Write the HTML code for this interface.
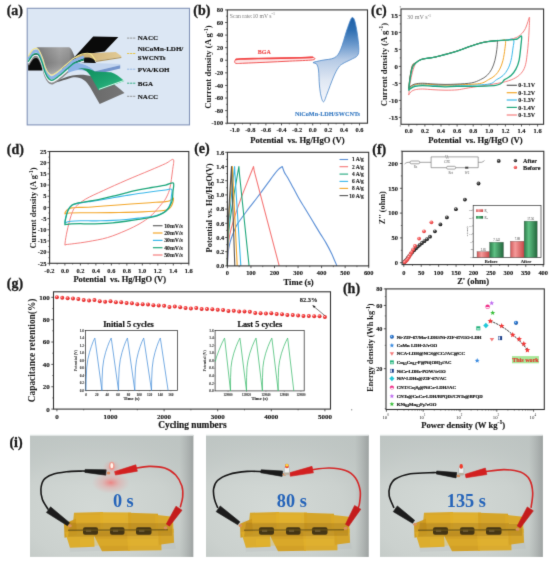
<!DOCTYPE html>
<html><head><meta charset="utf-8"><style>
html,body{margin:0;padding:0;background:#fff;width:550px;height:561px;overflow:hidden}
svg{display:block}
text{font-family:"Liberation Serif",serif}
</style></head><body>
<svg width="550" height="561" viewBox="0 0 550 561">
<defs><filter id="soft" x="0" y="0" width="550" height="561" filterUnits="userSpaceOnUse" color-interpolation-filters="sRGB"><feConvolveMatrix order="3" kernelMatrix="0.0113 0.0838 0.0113 0.0838 0.6193 0.0838 0.0113 0.0838 0.0113" edgeMode="duplicate" preserveAlpha="true"/></filter></defs>
<g filter="url(#soft)">
<rect x="0" y="0" width="550" height="561" fill="#fff"/>
<defs>
<radialGradient id="sph_k" cx="0.38" cy="0.35" r="0.65"><stop offset="0" stop-color="#c8c8c8"/><stop offset="0.35" stop-color="#4a4a4a"/><stop offset="1" stop-color="#111"/></radialGradient>
<radialGradient id="sph_r" cx="0.38" cy="0.35" r="0.65"><stop offset="0" stop-color="#ffd0d0"/><stop offset="0.35" stop-color="#f86a6a"/><stop offset="1" stop-color="#e03a3a"/></radialGradient>
<radialGradient id="sph_R" cx="0.38" cy="0.35" r="0.65"><stop offset="0" stop-color="#ffd4d4"/><stop offset="0.35" stop-color="#f84646"/><stop offset="1" stop-color="#d82424"/></radialGradient>
<radialGradient id="sph_b" cx="0.38" cy="0.35" r="0.65"><stop offset="0" stop-color="#cfe4ff"/><stop offset="0.35" stop-color="#2f7fd8"/><stop offset="1" stop-color="#1a4f9a"/></radialGradient>
<linearGradient id="bar_r" x1="0" y1="0" x2="1" y2="0"><stop offset="0" stop-color="#d05a5a"/><stop offset="0.35" stop-color="#f59a9a"/><stop offset="1" stop-color="#c84848"/></linearGradient>
<linearGradient id="bar_g" x1="0" y1="0" x2="1" y2="0"><stop offset="0" stop-color="#2a7a48"/><stop offset="0.35" stop-color="#5ec083"/><stop offset="1" stop-color="#23663c"/></linearGradient>
</defs>
<text x="14.80" y="14.90" font-size="14" text-anchor="middle" font-weight="bold" fill="#1a1a1a" stroke="#1a1a1a" stroke-width="0.30" >(a)</text>
<rect x="27.2" y="8.3" width="162.3" height="116.6" fill="#dce7f4" stroke="#8394b8" stroke-width="1.1"/>
<defs>
<linearGradient id="ga_gray" x1="0" y1="0" x2="1" y2="0">
<stop offset="0" stop-color="#7a7a7a"/><stop offset="0.25" stop-color="#8e8e8e"/><stop offset="0.6" stop-color="#a6a6a6"/><stop offset="0.85" stop-color="#9a9a9a"/><stop offset="1" stop-color="#6a6a6a"/></linearGradient>
<linearGradient id="ga_grayv" x1="0" y1="0" x2="0" y2="1">
<stop offset="0" stop-color="#000" stop-opacity="0"/><stop offset="0.55" stop-color="#000" stop-opacity="0.12"/><stop offset="1" stop-color="#fff" stop-opacity="0.25"/></linearGradient>
<linearGradient id="ga_green" x1="0" y1="0" x2="1" y2="1">
<stop offset="0" stop-color="#0c8a5a"/><stop offset="0.6" stop-color="#1fa572"/><stop offset="1" stop-color="#3cc08a"/></linearGradient>
<linearGradient id="ga_tan" x1="0" y1="0" x2="1" y2="0">
<stop offset="0" stop-color="#c8ab70"/><stop offset="1" stop-color="#e2cb96"/></linearGradient>
<linearGradient id="ga_bot" x1="0" y1="0" x2="1" y2="0">
<stop offset="0" stop-color="#5a5a5a"/><stop offset="1" stop-color="#767676"/></linearGradient>
</defs>
<path d="M50,83.5 C56,83 64,80 72,77.5 C80,76 86,80 90,87 L99.7,104 L124.5,93 C119,88 113,83 106,80 L92,76.5 C84,74 74,74 64,78 C58,80.5 54,81.5 50,81 Z" fill="url(#ga_bot)"/>
<path d="M28.2,70.5 L28.2,62 C30.5,56.5 33.5,53.2 36.3,53.5 C39.2,54 41,61 42.3,70.5 Z" fill="#0b0b0b"/>
<path d="M70,62 L93.2,36.5 L118.3,37.1 L104.6,51.5 L90,53.5 L80,57 Z" fill="#0a0a0a"/>
<path d="M62,68 C68,63 74,58.5 80,56 L92,56 L96,61 L84,62 C76,63 70,66 64,71 Z" fill="#141414"/>
<path d="M36.1,48.4 C36.8,47.6 37.5,47.3 38.8,47.3 L68.8,47.3 C71.3,47.8 72.8,52 75,57.6 C72.5,59.1 68,62.8 65.2,65.5 C62,68.5 58.8,70.9 55,73.5 C53.5,74.6 52.5,75 51.5,74.8 C48.8,73.6 47,70.5 45.2,67.3 C43.5,63 42,56 38.8,50 Z" fill="url(#ga_gray)"/>
<path d="M36.1,48.4 C36.8,47.6 37.5,47.3 38.8,47.3 L68.8,47.3 C71.3,47.8 72.8,52 75,57.6 C72.5,59.1 68,62.8 65.2,65.5 C62,68.5 58.8,70.9 55,73.5 C53.5,74.6 52.5,75 51.5,74.8 C48.8,73.6 47,70.5 45.2,67.3 C43.5,63 42,56 38.8,50 Z" fill="url(#ga_grayv)"/>
<path d="M72,60 C80,56 88,56 93.5,59.2 L96,63 L72,64 Z" fill="#111"/>
<path d="M74,58 C78,55.5 83,53.6 89.6,53.2 L115.8,52.1 L121.3,55.9 L121.3,57 L95.6,60.8 C94.5,60.3 93.8,59.8 93.5,59.2 C91,57.5 87,57 80,58.5 Z" fill="url(#ga_tan)"/>
<path d="M95.6,60.8 L121.3,57 L121.3,58 L95.8,62 Z" fill="#b0945a"/>
<path d="M28.20,65.10 C28.92,64.02 31.18,59.95 32.50,58.60 C33.82,57.25 35.05,57.00 36.10,57.00 C37.15,57.00 37.73,56.97 38.80,58.60 C39.87,60.23 41.43,63.92 42.50,66.80 C43.57,69.68 44.15,73.33 45.20,75.90 C46.25,78.47 47.58,80.92 48.80,82.20 C50.02,83.48 50.83,84.05 52.50,83.60 C54.17,83.15 56.68,81.08 58.80,79.50 C60.92,77.92 62.92,76.07 65.20,74.10 C67.48,72.13 70.53,69.15 72.50,67.70 C74.47,66.25 75.08,66.22 77.00,65.40 C78.92,64.58 82.83,63.23 84.00,62.80" fill="none" stroke="#8a8a8a" stroke-width="1.8"/>
<path d="M28.20,63.30 C28.92,62.22 31.18,58.15 32.50,56.80 C33.82,55.45 35.05,55.20 36.10,55.20 C37.15,55.20 37.73,55.17 38.80,56.80 C39.87,58.43 41.43,62.12 42.50,65.00 C43.57,67.88 44.15,71.53 45.20,74.10 C46.25,76.67 47.58,79.12 48.80,80.40 C50.02,81.68 50.83,82.25 52.50,81.80 C54.17,81.35 56.68,79.28 58.80,77.70 C60.92,76.12 62.92,74.27 65.20,72.30 C67.48,70.33 70.53,67.35 72.50,65.90 C74.47,64.45 75.08,64.42 77.00,63.60 C78.92,62.78 82.83,61.43 84.00,61.00" fill="none" stroke="#f4f7fa" stroke-width="1.6"/>
<path d="M28.20,59.20 C28.92,58.12 31.18,54.05 32.50,52.70 C33.82,51.35 35.05,51.10 36.10,51.10 C37.15,51.10 37.73,51.07 38.80,52.70 C39.87,54.33 41.43,58.02 42.50,60.90 C43.57,63.78 44.15,67.43 45.20,70.00 C46.25,72.57 47.58,75.02 48.80,76.30 C50.02,77.58 50.83,78.15 52.50,77.70 C54.17,77.25 56.68,75.18 58.80,73.60 C60.92,72.02 62.92,70.17 65.20,68.20 C67.48,66.23 70.53,63.25 72.50,61.80 C74.47,60.35 75.08,60.32 77.00,59.50 C78.92,58.68 82.83,57.33 84.00,56.90" fill="none" stroke="#8db3e6" stroke-width="3.0"/>
<path d="M68,66 C72,63.5 76,62.4 79.8,62.5 C86,64.5 92,68 95.1,71.2 L95.1,74.5 C90,72 84,70 78,70 C74,70.5 71,71.5 68,73 Z" fill="#8db3e6"/>
<path d="M79.8,62.5 L120.2,64.1 L120.2,65.2 L95.1,71.2 C92,68 86,64.5 79.8,63.5 Z" fill="#c3d5ef"/>
<path d="M95.1,71.2 L120.2,65.2 L120.2,68.5 L95.1,74.5 Z" fill="#7494cc"/>
<path d="M28.20,61.70 C28.92,60.62 31.18,56.55 32.50,55.20 C33.82,53.85 35.05,53.60 36.10,53.60 C37.15,53.60 37.73,53.57 38.80,55.20 C39.87,56.83 41.43,60.52 42.50,63.40 C43.57,66.28 44.15,69.93 45.20,72.50 C46.25,75.07 47.58,77.52 48.80,78.80 C50.02,80.08 50.83,80.65 52.50,80.20 C54.17,79.75 56.68,77.68 58.80,76.10 C60.92,74.52 62.92,72.67 65.20,70.70 C67.48,68.73 70.53,65.75 72.50,64.30 C74.47,62.85 75.08,62.82 77.00,62.00 C78.92,61.18 82.83,59.83 84.00,59.40" fill="none" stroke="#12a070" stroke-width="1.3"/>
<path d="M78,68.5 C85,68.8 89,72.5 92,78.5 L98.6,90.2 L124.3,81 C120,77 116,74 111,72.2 L95,71.5 C90,69 85,67.8 78,68.5 Z" fill="url(#ga_green)"/>
<path d="M99,89.3 L123.8,80.5" stroke="#e8fff4" stroke-width="0.9"/>
<path d="M28.20,56.50 C28.92,55.42 31.18,51.35 32.50,50.00 C33.82,48.65 35.05,48.40 36.10,48.40 C37.15,48.40 37.73,48.37 38.80,50.00 C39.87,51.63 41.43,55.32 42.50,58.20 C43.57,61.08 44.15,64.73 45.20,67.30 C46.25,69.87 47.58,72.32 48.80,73.60 C50.02,74.88 50.83,75.45 52.50,75.00 C54.17,74.55 56.68,72.48 58.80,70.90 C60.92,69.32 62.92,67.47 65.20,65.50 C67.48,63.53 71.28,60.17 72.50,59.10 C74.5,58 77.5,55.5 82,54 C86,53 89,53 90.5,53.8 C92.3,55 93.5,57.5 95.6,60.8" fill="none" stroke="#f2e690" stroke-width="1.1"/>
<line x1="127.1" y1="38.1" x2="135.7" y2="38.1" stroke="#8a8a8a" stroke-width="0.9" stroke-dasharray="2.2,0.8"/>
<line x1="127.1" y1="53.5" x2="135.7" y2="53.5" stroke="#e8c030" stroke-width="0.9" stroke-dasharray="2.2,0.8"/>
<line x1="127.1" y1="69.2" x2="135.7" y2="69.2" stroke="#8fb2e3" stroke-width="0.9" stroke-dasharray="2.2,0.8"/>
<line x1="127.1" y1="83.2" x2="135.7" y2="83.2" stroke="#20a878" stroke-width="0.9" stroke-dasharray="2.2,0.8"/>
<line x1="127.1" y1="96.3" x2="135.7" y2="96.3" stroke="#8a8a8a" stroke-width="0.9" stroke-dasharray="2.2,0.8"/>
<text x="137.80" y="40.40" font-size="7" text-anchor="start" font-weight="bold" fill="#111" stroke="#111" stroke-width="0.15" >NACC</text>
<text x="137.80" y="51.40" font-size="7" text-anchor="start" font-weight="bold" fill="#111" stroke="#111" stroke-width="0.15" >NiCoMn-LDH/</text>
<text x="137.80" y="59.90" font-size="7" text-anchor="start" font-weight="bold" fill="#111" stroke="#111" stroke-width="0.15" >SWCNTs</text>
<text x="137.80" y="71.80" font-size="7" text-anchor="start" font-weight="bold" fill="#111" stroke="#111" stroke-width="0.15" >PVA/KOH</text>
<text x="137.80" y="85.60" font-size="7" text-anchor="start" font-weight="bold" fill="#111" stroke="#111" stroke-width="0.15" >BGA</text>
<text x="137.80" y="99.40" font-size="7" text-anchor="start" font-weight="bold" fill="#111" stroke="#111" stroke-width="0.15" >NACC</text>
<text x="201.80" y="15.00" font-size="14" text-anchor="middle" font-weight="bold" fill="#1a1a1a" stroke="#1a1a1a" stroke-width="0.30" >(b)</text>
<defs><linearGradient id="gb_blue" x1="0" y1="0" x2="0" y2="1"><stop offset="0" stop-color="#1d5fa6"/><stop offset="0.15" stop-color="#2f6fb2"/><stop offset="0.32" stop-color="#6a98cc"/><stop offset="0.5" stop-color="#b5cae5"/><stop offset="0.74" stop-color="#dfe7f3"/><stop offset="1" stop-color="#f5f7fc"/></linearGradient></defs>
<path d="M234.70,61.20 C234.83,60.63 234.96,59.87 235.87,59.50 C236.78,59.12 236.45,59.09 240.16,58.93 C243.86,58.77 251.21,58.68 258.10,58.55 C264.99,58.43 274.35,58.30 281.50,58.17 C288.65,58.05 295.80,57.94 301.00,57.80 C306.20,57.65 310.75,56.95 312.70,57.29 C314.65,57.64 316.60,59.23 312.70,59.87 C308.80,60.51 297.10,60.73 289.30,61.13 C281.50,61.53 273.44,61.92 265.90,62.27 C258.36,62.61 248.87,63.00 244.06,63.21 C239.25,63.42 238.53,63.58 237.04,63.52 C235.54,63.47 235.48,63.28 235.09,62.90 Z" fill="#fde6e6" stroke="#f25656" stroke-width="1.0" stroke-linejoin="round" stroke-linecap="round" />
<path d="M235.87,59.50 C236.59,59.40 236.45,59.09 240.16,58.93 C243.86,58.77 251.21,58.68 258.10,58.55 C264.99,58.43 274.35,58.30 281.50,58.17 C288.65,58.05 295.80,57.94 301.00,57.80 C306.20,57.65 310.75,57.38 312.70,57.29" fill="none" stroke="#f24848" stroke-width="1.6" stroke-linejoin="round" stroke-linecap="round" />
<path d="M313.30,62.40 C314.22,61.78 318.50,61.07 322.00,60.30 C325.50,59.53 331.22,59.52 334.30,57.80 C337.38,56.08 338.47,54.47 340.50,50.00 C342.53,45.53 344.83,36.00 346.50,31.00 C348.17,26.00 349.48,22.23 350.50,20.00 C351.52,17.77 351.88,17.43 352.60,17.60 C353.32,17.77 354.03,18.43 354.80,21.00 C355.57,23.57 356.53,28.50 357.20,33.00 C357.87,37.50 358.75,44.25 358.80,48.00 C358.85,51.75 358.80,53.58 357.50,55.50 C356.20,57.42 353.42,58.17 351.00,59.50 C348.58,60.83 345.08,62.17 343.00,63.50 C340.92,64.83 340.08,65.25 338.50,67.50 C336.92,69.75 335.42,72.58 333.50,77.00 C331.58,81.42 328.65,89.87 327.00,94.00 C325.35,98.13 324.60,101.47 323.60,101.80 C322.60,102.13 321.70,98.80 321.00,96.00 C320.30,93.20 319.82,89.33 319.40,85.00 C318.98,80.67 318.98,73.50 318.50,70.00 C318.02,66.50 317.37,65.27 316.50,64.00 Z" fill="url(#gb_blue)" stroke="#4d88c9" stroke-width="0.8" stroke-linejoin="round" stroke-linecap="round" />
<rect x="227.30" y="9.90" width="140.20" height="113.30" fill="none" stroke="#333" stroke-width="1.1"/>
<line x1="234.70" y1="123.20" x2="234.70" y2="125.40" stroke="#333" stroke-width="0.8"/>
<text x="234.70" y="131.50" font-size="6.4" text-anchor="middle" font-weight="bold" fill="#1a1a1a" stroke="#1a1a1a" stroke-width="0.14" >-1.0</text>
<line x1="250.30" y1="123.20" x2="250.30" y2="125.40" stroke="#333" stroke-width="0.8"/>
<text x="250.30" y="131.50" font-size="6.4" text-anchor="middle" font-weight="bold" fill="#1a1a1a" stroke="#1a1a1a" stroke-width="0.14" >-0.8</text>
<line x1="265.90" y1="123.20" x2="265.90" y2="125.40" stroke="#333" stroke-width="0.8"/>
<text x="265.90" y="131.50" font-size="6.4" text-anchor="middle" font-weight="bold" fill="#1a1a1a" stroke="#1a1a1a" stroke-width="0.14" >-0.6</text>
<line x1="281.50" y1="123.20" x2="281.50" y2="125.40" stroke="#333" stroke-width="0.8"/>
<text x="281.50" y="131.50" font-size="6.4" text-anchor="middle" font-weight="bold" fill="#1a1a1a" stroke="#1a1a1a" stroke-width="0.14" >-0.4</text>
<line x1="297.10" y1="123.20" x2="297.10" y2="125.40" stroke="#333" stroke-width="0.8"/>
<text x="297.10" y="131.50" font-size="6.4" text-anchor="middle" font-weight="bold" fill="#1a1a1a" stroke="#1a1a1a" stroke-width="0.14" >-0.2</text>
<line x1="312.70" y1="123.20" x2="312.70" y2="125.40" stroke="#333" stroke-width="0.8"/>
<text x="312.70" y="131.50" font-size="6.4" text-anchor="middle" font-weight="bold" fill="#1a1a1a" stroke="#1a1a1a" stroke-width="0.14" >0.0</text>
<line x1="328.30" y1="123.20" x2="328.30" y2="125.40" stroke="#333" stroke-width="0.8"/>
<text x="328.30" y="131.50" font-size="6.4" text-anchor="middle" font-weight="bold" fill="#1a1a1a" stroke="#1a1a1a" stroke-width="0.14" >0.2</text>
<line x1="343.90" y1="123.20" x2="343.90" y2="125.40" stroke="#333" stroke-width="0.8"/>
<text x="343.90" y="131.50" font-size="6.4" text-anchor="middle" font-weight="bold" fill="#1a1a1a" stroke="#1a1a1a" stroke-width="0.14" >0.4</text>
<line x1="359.50" y1="123.20" x2="359.50" y2="125.40" stroke="#333" stroke-width="0.8"/>
<text x="359.50" y="131.50" font-size="6.4" text-anchor="middle" font-weight="bold" fill="#1a1a1a" stroke="#1a1a1a" stroke-width="0.14" >0.6</text>
<line x1="242.50" y1="123.20" x2="242.50" y2="124.50" stroke="#333" stroke-width="0.6"/>
<line x1="258.10" y1="123.20" x2="258.10" y2="124.50" stroke="#333" stroke-width="0.6"/>
<line x1="273.70" y1="123.20" x2="273.70" y2="124.50" stroke="#333" stroke-width="0.6"/>
<line x1="289.30" y1="123.20" x2="289.30" y2="124.50" stroke="#333" stroke-width="0.6"/>
<line x1="304.90" y1="123.20" x2="304.90" y2="124.50" stroke="#333" stroke-width="0.6"/>
<line x1="320.50" y1="123.20" x2="320.50" y2="124.50" stroke="#333" stroke-width="0.6"/>
<line x1="336.10" y1="123.20" x2="336.10" y2="124.50" stroke="#333" stroke-width="0.6"/>
<line x1="351.70" y1="123.20" x2="351.70" y2="124.50" stroke="#333" stroke-width="0.6"/>
<line x1="226.91" y1="123.20" x2="226.91" y2="124.50" stroke="#333" stroke-width="0.6"/>
<line x1="225.10" y1="9.90" x2="227.30" y2="9.90" stroke="#333" stroke-width="0.8"/>
<text x="223.20" y="12.10" font-size="6.4" text-anchor="end" font-weight="bold" fill="#1a1a1a" stroke="#1a1a1a" stroke-width="0.14" >80</text>
<line x1="225.10" y1="22.49" x2="227.30" y2="22.49" stroke="#333" stroke-width="0.8"/>
<text x="223.20" y="24.69" font-size="6.4" text-anchor="end" font-weight="bold" fill="#1a1a1a" stroke="#1a1a1a" stroke-width="0.14" >60</text>
<line x1="225.10" y1="35.08" x2="227.30" y2="35.08" stroke="#333" stroke-width="0.8"/>
<text x="223.20" y="37.28" font-size="6.4" text-anchor="end" font-weight="bold" fill="#1a1a1a" stroke="#1a1a1a" stroke-width="0.14" >40</text>
<line x1="225.10" y1="47.66" x2="227.30" y2="47.66" stroke="#333" stroke-width="0.8"/>
<text x="223.20" y="49.86" font-size="6.4" text-anchor="end" font-weight="bold" fill="#1a1a1a" stroke="#1a1a1a" stroke-width="0.14" >20</text>
<line x1="225.10" y1="60.25" x2="227.30" y2="60.25" stroke="#333" stroke-width="0.8"/>
<text x="223.20" y="62.45" font-size="6.4" text-anchor="end" font-weight="bold" fill="#1a1a1a" stroke="#1a1a1a" stroke-width="0.14" >0</text>
<line x1="225.10" y1="72.84" x2="227.30" y2="72.84" stroke="#333" stroke-width="0.8"/>
<text x="223.20" y="75.04" font-size="6.4" text-anchor="end" font-weight="bold" fill="#1a1a1a" stroke="#1a1a1a" stroke-width="0.14" >-20</text>
<line x1="225.10" y1="85.43" x2="227.30" y2="85.43" stroke="#333" stroke-width="0.8"/>
<text x="223.20" y="87.63" font-size="6.4" text-anchor="end" font-weight="bold" fill="#1a1a1a" stroke="#1a1a1a" stroke-width="0.14" >-40</text>
<line x1="225.10" y1="98.02" x2="227.30" y2="98.02" stroke="#333" stroke-width="0.8"/>
<text x="223.20" y="100.22" font-size="6.4" text-anchor="end" font-weight="bold" fill="#1a1a1a" stroke="#1a1a1a" stroke-width="0.14" >-60</text>
<line x1="225.10" y1="110.60" x2="227.30" y2="110.60" stroke="#333" stroke-width="0.8"/>
<text x="223.20" y="112.80" font-size="6.4" text-anchor="end" font-weight="bold" fill="#1a1a1a" stroke="#1a1a1a" stroke-width="0.14" >-80</text>
<line x1="225.10" y1="123.19" x2="227.30" y2="123.19" stroke="#333" stroke-width="0.8"/>
<text x="223.20" y="125.39" font-size="6.4" text-anchor="end" font-weight="bold" fill="#1a1a1a" stroke="#1a1a1a" stroke-width="0.14" >-100</text>
<line x1="226.00" y1="16.19" x2="227.30" y2="16.19" stroke="#333" stroke-width="0.6"/>
<line x1="226.00" y1="28.78" x2="227.30" y2="28.78" stroke="#333" stroke-width="0.6"/>
<line x1="226.00" y1="41.37" x2="227.30" y2="41.37" stroke="#333" stroke-width="0.6"/>
<line x1="226.00" y1="53.96" x2="227.30" y2="53.96" stroke="#333" stroke-width="0.6"/>
<line x1="226.00" y1="66.55" x2="227.30" y2="66.55" stroke="#333" stroke-width="0.6"/>
<line x1="226.00" y1="79.13" x2="227.30" y2="79.13" stroke="#333" stroke-width="0.6"/>
<line x1="226.00" y1="91.72" x2="227.30" y2="91.72" stroke="#333" stroke-width="0.6"/>
<line x1="226.00" y1="104.31" x2="227.30" y2="104.31" stroke="#333" stroke-width="0.6"/>
<line x1="226.00" y1="116.90" x2="227.30" y2="116.90" stroke="#333" stroke-width="0.6"/>
<text x="297.40" y="142.60" font-size="8.6" text-anchor="middle" font-weight="bold" fill="#1a1a1a" stroke="#1a1a1a" stroke-width="0.18" >Potential&#160;&#160;vs. Hg/HgO (V)</text>
<text transform="translate(211.3,67) rotate(-90)" font-size="8.6" text-anchor="middle" font-weight="bold" fill="#1a1a1a">Current density (A g<tspan font-size="6" dy="-3.5">-1</tspan><tspan dy="3.5">)</tspan></text>
<text x="229.8" y="17.6" font-size="5.7" fill="#7a7a7a" font-weight="normal">Scan rate:10 mV s<tspan font-size="4" dy="-2.2">-1</tspan></text>
<text x="264.30" y="53.80" font-size="6.0" text-anchor="middle" font-weight="bold" fill="#f04a4a" stroke="#f04a4a" stroke-width="0.13" >BGA</text>
<text x="327.50" y="115.50" font-size="6.2" text-anchor="middle" font-weight="bold" fill="#3b7dc4" stroke="#3b7dc4" stroke-width="0.13" >NiCoMn-LDH/SWCNTs</text>
<text x="378.80" y="15.00" font-size="14" text-anchor="middle" font-weight="bold" fill="#1a1a1a" stroke="#1a1a1a" stroke-width="0.30" >(c)</text>
<path d="M408.80,94.62 C409.00,92.81 409.40,87.48 410.01,83.74 C410.61,80.00 411.42,75.69 412.42,72.18 C413.43,68.67 414.64,64.76 416.05,62.66 C417.45,60.56 419.13,60.31 420.88,59.60 C422.62,58.89 424.23,58.81 426.51,58.41 C428.79,58.01 431.47,57.87 434.56,57.22 C437.65,56.57 441.27,55.52 445.03,54.50 C448.78,53.48 453.08,52.40 457.10,51.10 C461.12,49.80 465.42,47.98 469.18,46.68 C472.93,45.38 476.55,44.13 479.64,43.28 C482.73,42.43 485.01,42.01 487.69,41.58 C490.37,41.16 492.79,40.96 495.74,40.73 C498.69,40.50 502.45,40.59 505.40,40.22 C508.35,39.85 511.30,39.14 513.45,38.52 C515.60,37.90 516.80,37.39 518.28,36.48 C519.76,35.57 521.10,34.44 522.31,33.08 C523.51,31.72 524.59,30.25 525.52,28.32 C526.46,26.39 527.27,23.33 527.94,21.52 C528.61,19.71 529.35,16.19 529.55,17.44 C529.75,18.69 529.35,24.81 529.15,29.00 C528.95,33.19 528.68,38.35 528.34,42.60 C528.01,46.85 527.60,50.82 527.13,54.50 C526.67,58.18 526.33,61.81 525.52,64.70 C524.72,67.59 523.92,69.69 522.31,71.84 C520.70,73.99 518.68,75.98 515.87,77.62 C513.05,79.26 509.83,80.51 505.40,81.70 C500.97,82.89 494.67,83.85 489.30,84.76 C483.93,85.67 477.23,86.52 473.20,87.14 C469.18,87.76 467.83,88.05 465.15,88.50 C462.47,88.95 460.45,89.58 457.10,89.86 C453.75,90.14 449.05,90.23 445.03,90.20 C441.00,90.17 436.71,89.89 432.95,89.69 C429.19,89.49 425.44,89.01 422.49,89.01 C419.53,89.01 417.12,89.27 415.24,89.69 C413.36,90.12 412.29,90.74 411.22,91.56 C410.14,92.38 409.20,94.11 408.80,94.62 Z" fill="none" stroke="#f57f7f" stroke-width="1.0" stroke-linejoin="round" stroke-linecap="round" />
<path d="M408.80,88.84 C409.00,87.03 409.40,81.70 410.01,77.96 C410.61,74.22 411.42,68.95 412.42,66.40 C413.43,63.85 414.64,63.79 416.05,62.66 C417.45,61.53 419.13,60.31 420.88,59.60 C422.62,58.89 424.23,58.81 426.51,58.41 C428.79,58.01 431.47,57.87 434.56,57.22 C437.65,56.57 441.27,55.52 445.03,54.50 C448.78,53.48 453.08,52.40 457.10,51.10 C461.12,49.80 465.42,47.98 469.18,46.68 C472.93,45.38 476.55,44.13 479.64,43.28 C482.73,42.43 485.01,42.01 487.69,41.58 C490.37,41.16 492.79,40.96 495.74,40.73 C498.69,40.50 502.45,40.42 505.40,40.22 C508.35,40.02 512.19,38.24 513.45,39.54 C514.71,40.84 513.37,44.58 512.97,48.04 C512.56,51.50 511.89,56.77 511.04,60.28 C510.18,63.79 509.16,66.57 507.81,69.12 C506.47,71.67 504.86,73.82 502.99,75.58 C501.11,77.34 499.09,78.22 496.55,79.66 C494.00,81.11 494.26,83.29 487.69,84.25 C481.12,85.21 464.21,85.19 457.10,85.44 C449.99,85.69 449.05,85.81 445.03,85.78 C441.00,85.75 436.71,85.47 432.95,85.27 C429.19,85.07 425.44,84.59 422.49,84.59 C419.53,84.59 417.12,84.85 415.24,85.27 C413.36,85.70 412.29,86.55 411.22,87.14 C410.14,87.73 409.20,88.56 408.80,88.84 Z" fill="none" stroke="#3ab8ea" stroke-width="1.0" stroke-linejoin="round" stroke-linecap="round" />
<path d="M408.80,88.16 C409.00,86.35 409.40,81.02 410.01,77.28 C410.61,73.54 411.42,68.16 412.42,65.72 C413.43,63.28 414.64,63.68 416.05,62.66 C417.45,61.64 419.13,60.31 420.88,59.60 C422.62,58.89 424.23,58.81 426.51,58.41 C428.79,58.01 431.47,57.87 434.56,57.22 C437.65,56.57 441.27,55.52 445.03,54.50 C448.78,53.48 453.08,52.40 457.10,51.10 C461.12,49.80 465.42,47.98 469.18,46.68 C472.93,45.38 476.55,44.13 479.64,43.28 C482.73,42.43 485.01,42.01 487.69,41.58 C490.37,41.16 493.46,40.90 495.74,40.73 C498.02,40.56 499.76,40.65 501.38,40.56 C502.99,40.48 504.81,38.86 505.40,40.22 C505.99,41.58 505.32,45.38 504.92,48.72 C504.51,52.06 503.84,56.88 502.99,60.28 C502.13,63.68 501.11,66.57 499.76,69.12 C498.42,71.67 496.81,73.82 494.94,75.58 C493.06,77.34 491.04,78.33 488.50,79.66 C485.95,80.99 484.87,82.72 479.64,83.57 C474.41,84.42 462.87,84.51 457.10,84.76 C451.33,85.02 449.05,85.13 445.03,85.10 C441.00,85.07 436.71,84.79 432.95,84.59 C429.19,84.39 425.44,83.91 422.49,83.91 C419.53,83.91 417.12,84.17 415.24,84.59 C413.36,85.02 412.29,85.87 411.22,86.46 C410.14,87.06 409.20,87.88 408.80,88.16 Z" fill="none" stroke="#f3a72a" stroke-width="1.0" stroke-linejoin="round" stroke-linecap="round" />
<path d="M408.80,87.82 C409.00,86.01 409.40,80.68 410.01,76.94 C410.61,73.20 411.42,67.76 412.42,65.38 C413.43,63.00 414.64,63.62 416.05,62.66 C417.45,61.70 419.13,60.31 420.88,59.60 C422.62,58.89 424.23,58.81 426.51,58.41 C428.79,58.01 431.47,57.87 434.56,57.22 C437.65,56.57 441.27,55.52 445.03,54.50 C448.78,53.48 453.08,52.40 457.10,51.10 C461.12,49.80 465.42,47.98 469.18,46.68 C472.93,45.38 476.55,44.13 479.64,43.28 C482.73,42.43 485.01,42.01 487.69,41.58 C490.37,41.16 494.13,40.87 495.74,40.73 C497.35,40.59 497.16,39.29 497.35,40.73 C497.54,42.18 497.27,46.14 496.87,49.40 C496.46,52.66 495.79,56.99 494.94,60.28 C494.08,63.57 493.06,66.57 491.72,69.12 C490.37,71.67 488.76,73.82 486.88,75.58 C485.01,77.34 482.99,78.44 480.45,79.66 C477.90,80.88 475.48,82.15 471.59,82.89 C467.70,83.63 461.53,83.83 457.10,84.08 C452.67,84.34 449.05,84.45 445.03,84.42 C441.00,84.39 436.71,84.11 432.95,83.91 C429.19,83.71 425.44,83.23 422.49,83.23 C419.53,83.23 417.12,83.49 415.24,83.91 C413.36,84.34 412.29,85.13 411.22,85.78 C410.14,86.43 409.20,87.48 408.80,87.82 Z" fill="none" stroke="#5a5a5a" stroke-width="0.9" stroke-linejoin="round" stroke-linecap="round" />
<path d="M408.80,90.20 C409.00,88.39 409.40,83.06 410.01,79.32 C410.61,75.58 411.42,70.54 412.42,67.76 C413.43,64.98 414.64,64.02 416.05,62.66 C417.45,61.30 419.13,60.31 420.88,59.60 C422.62,58.89 424.23,58.81 426.51,58.41 C428.79,58.01 431.47,57.87 434.56,57.22 C437.65,56.57 441.27,55.52 445.03,54.50 C448.78,53.48 453.08,52.40 457.10,51.10 C461.12,49.80 465.42,47.98 469.18,46.68 C472.93,45.38 476.55,44.13 479.64,43.28 C482.73,42.43 485.01,42.01 487.69,41.58 C490.37,41.16 492.79,40.96 495.74,40.73 C498.69,40.50 502.45,40.42 505.40,40.22 C508.35,40.02 511.44,39.77 513.45,39.54 C515.46,39.31 516.13,39.43 517.48,38.86 C518.82,38.29 520.91,35.18 521.50,36.14 C522.09,37.10 521.42,40.62 521.02,44.64 C520.61,48.66 519.94,56.20 519.09,60.28 C518.23,64.36 517.21,66.57 515.87,69.12 C514.52,71.67 512.91,73.82 511.04,75.58 C509.16,77.34 507.14,78.05 504.60,79.66 C502.05,81.28 503.66,84.14 495.74,85.27 C487.82,86.40 465.55,86.21 457.10,86.46 C448.65,86.72 449.05,86.83 445.03,86.80 C441.00,86.77 436.71,86.49 432.95,86.29 C429.19,86.09 425.44,85.61 422.49,85.61 C419.53,85.61 417.12,85.87 415.24,86.29 C413.36,86.72 412.29,87.51 411.22,88.16 C410.14,88.81 409.20,89.86 408.80,90.20 Z" fill="none" stroke="#1fa77c" stroke-width="1.3" stroke-linejoin="round" stroke-linecap="round" />
<rect x="401.00" y="9.00" width="142.60" height="115.30" fill="none" stroke="#333" stroke-width="1.1"/>
<line x1="408.80" y1="124.30" x2="408.80" y2="126.50" stroke="#333" stroke-width="0.8"/>
<text x="408.80" y="133.00" font-size="6.4" text-anchor="middle" font-weight="bold" fill="#1a1a1a" stroke="#1a1a1a" stroke-width="0.14" >0.0</text>
<line x1="424.90" y1="124.30" x2="424.90" y2="126.50" stroke="#333" stroke-width="0.8"/>
<text x="424.90" y="133.00" font-size="6.4" text-anchor="middle" font-weight="bold" fill="#1a1a1a" stroke="#1a1a1a" stroke-width="0.14" >0.2</text>
<line x1="441.00" y1="124.30" x2="441.00" y2="126.50" stroke="#333" stroke-width="0.8"/>
<text x="441.00" y="133.00" font-size="6.4" text-anchor="middle" font-weight="bold" fill="#1a1a1a" stroke="#1a1a1a" stroke-width="0.14" >0.4</text>
<line x1="457.10" y1="124.30" x2="457.10" y2="126.50" stroke="#333" stroke-width="0.8"/>
<text x="457.10" y="133.00" font-size="6.4" text-anchor="middle" font-weight="bold" fill="#1a1a1a" stroke="#1a1a1a" stroke-width="0.14" >0.6</text>
<line x1="473.20" y1="124.30" x2="473.20" y2="126.50" stroke="#333" stroke-width="0.8"/>
<text x="473.20" y="133.00" font-size="6.4" text-anchor="middle" font-weight="bold" fill="#1a1a1a" stroke="#1a1a1a" stroke-width="0.14" >0.8</text>
<line x1="489.30" y1="124.30" x2="489.30" y2="126.50" stroke="#333" stroke-width="0.8"/>
<text x="489.30" y="133.00" font-size="6.4" text-anchor="middle" font-weight="bold" fill="#1a1a1a" stroke="#1a1a1a" stroke-width="0.14" >1.0</text>
<line x1="505.40" y1="124.30" x2="505.40" y2="126.50" stroke="#333" stroke-width="0.8"/>
<text x="505.40" y="133.00" font-size="6.4" text-anchor="middle" font-weight="bold" fill="#1a1a1a" stroke="#1a1a1a" stroke-width="0.14" >1.2</text>
<line x1="521.50" y1="124.30" x2="521.50" y2="126.50" stroke="#333" stroke-width="0.8"/>
<text x="521.50" y="133.00" font-size="6.4" text-anchor="middle" font-weight="bold" fill="#1a1a1a" stroke="#1a1a1a" stroke-width="0.14" >1.4</text>
<line x1="537.60" y1="124.30" x2="537.60" y2="126.50" stroke="#333" stroke-width="0.8"/>
<text x="537.60" y="133.00" font-size="6.4" text-anchor="middle" font-weight="bold" fill="#1a1a1a" stroke="#1a1a1a" stroke-width="0.14" >1.6</text>
<line x1="416.85" y1="124.30" x2="416.85" y2="125.60" stroke="#333" stroke-width="0.6"/>
<line x1="432.95" y1="124.30" x2="432.95" y2="125.60" stroke="#333" stroke-width="0.6"/>
<line x1="449.05" y1="124.30" x2="449.05" y2="125.60" stroke="#333" stroke-width="0.6"/>
<line x1="465.15" y1="124.30" x2="465.15" y2="125.60" stroke="#333" stroke-width="0.6"/>
<line x1="481.25" y1="124.30" x2="481.25" y2="125.60" stroke="#333" stroke-width="0.6"/>
<line x1="497.35" y1="124.30" x2="497.35" y2="125.60" stroke="#333" stroke-width="0.6"/>
<line x1="513.45" y1="124.30" x2="513.45" y2="125.60" stroke="#333" stroke-width="0.6"/>
<line x1="529.55" y1="124.30" x2="529.55" y2="125.60" stroke="#333" stroke-width="0.6"/>
<line x1="398.80" y1="15.40" x2="401.00" y2="15.40" stroke="#333" stroke-width="0.8"/>
<text x="397.90" y="17.75" font-size="6.8" text-anchor="end" font-weight="bold" fill="#1a1a1a" stroke="#1a1a1a" stroke-width="0.15" >15</text>
<line x1="398.80" y1="32.40" x2="401.00" y2="32.40" stroke="#333" stroke-width="0.8"/>
<text x="397.90" y="34.75" font-size="6.8" text-anchor="end" font-weight="bold" fill="#1a1a1a" stroke="#1a1a1a" stroke-width="0.15" >10</text>
<line x1="398.80" y1="49.40" x2="401.00" y2="49.40" stroke="#333" stroke-width="0.8"/>
<text x="397.90" y="51.75" font-size="6.8" text-anchor="end" font-weight="bold" fill="#1a1a1a" stroke="#1a1a1a" stroke-width="0.15" >5</text>
<line x1="398.80" y1="66.40" x2="401.00" y2="66.40" stroke="#333" stroke-width="0.8"/>
<text x="397.90" y="68.75" font-size="6.8" text-anchor="end" font-weight="bold" fill="#1a1a1a" stroke="#1a1a1a" stroke-width="0.15" >0</text>
<line x1="398.80" y1="83.40" x2="401.00" y2="83.40" stroke="#333" stroke-width="0.8"/>
<text x="397.90" y="85.75" font-size="6.8" text-anchor="end" font-weight="bold" fill="#1a1a1a" stroke="#1a1a1a" stroke-width="0.15" >-5</text>
<line x1="398.80" y1="100.40" x2="401.00" y2="100.40" stroke="#333" stroke-width="0.8"/>
<text x="397.90" y="102.75" font-size="6.8" text-anchor="end" font-weight="bold" fill="#1a1a1a" stroke="#1a1a1a" stroke-width="0.15" >-10</text>
<line x1="398.80" y1="117.40" x2="401.00" y2="117.40" stroke="#333" stroke-width="0.8"/>
<text x="397.90" y="119.75" font-size="6.8" text-anchor="end" font-weight="bold" fill="#1a1a1a" stroke="#1a1a1a" stroke-width="0.15" >-15</text>
<line x1="399.70" y1="23.90" x2="401.00" y2="23.90" stroke="#333" stroke-width="0.6"/>
<line x1="399.70" y1="40.90" x2="401.00" y2="40.90" stroke="#333" stroke-width="0.6"/>
<line x1="399.70" y1="57.90" x2="401.00" y2="57.90" stroke="#333" stroke-width="0.6"/>
<line x1="399.70" y1="74.90" x2="401.00" y2="74.90" stroke="#333" stroke-width="0.6"/>
<line x1="399.70" y1="91.90" x2="401.00" y2="91.90" stroke="#333" stroke-width="0.6"/>
<line x1="399.70" y1="108.90" x2="401.00" y2="108.90" stroke="#333" stroke-width="0.6"/>
<line x1="399.70" y1="125.90" x2="401.00" y2="125.90" stroke="#333" stroke-width="0.6"/>
<line x1="399.70" y1="6.90" x2="401.00" y2="6.90" stroke="#333" stroke-width="0.6"/>
<text x="475.50" y="142.60" font-size="8.6" text-anchor="middle" font-weight="bold" fill="#1a1a1a" stroke="#1a1a1a" stroke-width="0.18" >Potential&#160;&#160;vs. Hg/HgO (V)</text>
<text transform="translate(386.8,64.6) rotate(-90)" font-size="8.6" text-anchor="middle" font-weight="bold" fill="#1a1a1a">Current density (A g<tspan font-size="6" dy="-3.5">-1</tspan><tspan dy="3.5">)</tspan></text>
<text x="407.1" y="19.4" font-size="6.1" fill="#7a7a7a" font-weight="normal">30 mV s<tspan font-size="4" dy="-2.2">-1</tspan></text>
<line x1="506.70" y1="85.30" x2="516.90" y2="85.30" stroke="#5a5a5a" stroke-width="1.2"/>
<text x="518.20" y="87.40" font-size="6.0" text-anchor="start" font-weight="bold" fill="#1a1a1a" stroke="#1a1a1a" stroke-width="0.13" >0-1.1V</text>
<line x1="506.70" y1="92.70" x2="516.90" y2="92.70" stroke="#f3a72a" stroke-width="1.2"/>
<text x="518.20" y="94.80" font-size="6.0" text-anchor="start" font-weight="bold" fill="#1a1a1a" stroke="#1a1a1a" stroke-width="0.13" >0-1.2V</text>
<line x1="506.70" y1="100.00" x2="516.90" y2="100.00" stroke="#3ab8ea" stroke-width="1.2"/>
<text x="518.20" y="102.10" font-size="6.0" text-anchor="start" font-weight="bold" fill="#1a1a1a" stroke="#1a1a1a" stroke-width="0.13" >0-1.3V</text>
<line x1="506.70" y1="107.40" x2="516.90" y2="107.40" stroke="#1fa77c" stroke-width="1.2"/>
<text x="518.20" y="109.50" font-size="6.0" text-anchor="start" font-weight="bold" fill="#1a1a1a" stroke="#1a1a1a" stroke-width="0.13" >0-1.4V</text>
<line x1="506.70" y1="115.00" x2="516.90" y2="115.00" stroke="#f57f7f" stroke-width="1.2"/>
<text x="518.20" y="117.10" font-size="6.0" text-anchor="start" font-weight="bold" fill="#1a1a1a" stroke="#1a1a1a" stroke-width="0.13" >0-1.5V</text>
<text x="15.30" y="153.70" font-size="14" text-anchor="middle" font-weight="bold" fill="#1a1a1a" stroke="#1a1a1a" stroke-width="0.30" >(d)</text>
<path d="M64.90,213.88 C64.77,213.59 65.16,212.43 65.67,211.65 C66.19,210.87 66.97,209.82 68.00,209.19 C69.03,208.56 70.19,208.15 71.87,207.85 C73.55,207.55 75.35,207.51 78.06,207.40 C80.78,207.29 83.87,207.40 88.13,207.18 C92.39,206.95 96.52,206.58 103.62,206.06 C110.72,205.54 122.98,204.60 130.72,204.05 C138.47,203.49 144.28,203.11 150.08,202.70 C155.89,202.29 162.22,201.96 165.57,201.59 C168.93,201.21 168.93,201.06 170.22,200.47 C171.51,199.87 172.86,197.71 173.32,198.01 C173.77,198.31 173.32,200.80 172.93,202.26 C172.54,203.71 171.83,205.54 170.99,206.73 C170.15,207.92 169.44,208.74 167.90,209.41 C166.35,210.08 165.96,210.34 161.70,210.75 C157.44,211.16 149.44,211.57 142.34,211.87 C135.24,212.17 126.85,212.39 119.11,212.54 C111.36,212.69 102.33,212.73 95.88,212.77 C89.42,212.80 84.78,212.73 80.39,212.77 C76.00,212.80 71.87,212.88 69.55,212.99 C67.22,213.10 67.22,213.29 66.45,213.44 Z" fill="none" stroke="#f3a72a" stroke-width="1.1" stroke-linejoin="round" stroke-linecap="round" />
<path d="M64.90,244.74 C64.90,243.03 65.67,238.22 66.45,234.23 C67.22,230.24 68.51,224.62 69.55,220.82 C70.58,217.01 71.65,213.74 72.64,211.42 C73.64,209.11 73.35,209.00 75.51,206.95 C77.66,204.90 80.89,201.88 85.58,199.13 C90.26,196.37 96.87,193.54 103.62,190.41 C110.37,187.28 118.33,183.70 126.08,180.34 C133.82,176.99 143.50,173.08 150.08,170.28 C156.67,167.49 161.70,165.36 165.57,163.57 C169.44,161.79 172.13,158.58 173.32,159.55 C174.50,160.52 173.02,166.07 172.70,169.39 C172.37,172.70 171.92,176.02 171.38,179.45 C170.84,182.88 170.41,186.72 169.44,189.96 C168.48,193.20 166.86,196.59 165.57,198.90 C164.28,201.21 163.12,202.07 161.70,203.82 C160.28,205.57 158.99,207.29 157.05,209.41 C155.12,211.54 152.92,214.22 150.08,216.57 C147.24,218.92 144.02,221.19 140.02,223.50 C136.02,225.81 131.50,228.08 126.08,230.43 C120.66,232.78 113.82,235.72 107.49,237.59 C101.17,239.45 93.68,240.60 88.13,241.61 C82.58,242.62 77.81,243.14 74.19,243.62 C70.58,244.11 68.00,244.33 66.45,244.52 Z" fill="none" stroke="#f57f7f" stroke-width="1.0" stroke-linejoin="round" stroke-linecap="round" />
<path d="M64.90,223.05 C64.77,222.27 65.16,219.62 65.67,217.46 C66.19,215.30 66.97,212.13 68.00,210.08 C69.03,208.03 70.19,206.28 71.87,205.16 C73.55,204.05 75.35,203.93 78.06,203.38 C80.78,202.82 84.39,202.37 88.13,201.81 C91.87,201.25 96.39,200.69 100.52,200.02 C104.65,199.35 108.65,198.53 112.91,197.79 C117.17,197.04 121.82,196.26 126.08,195.55 C130.34,194.84 134.21,194.17 138.47,193.54 C142.73,192.90 147.12,192.34 151.63,191.75 C156.15,191.15 162.22,190.37 165.57,189.96 C168.93,189.55 170.80,188.24 171.77,189.29 C172.74,190.33 171.57,193.95 171.38,196.22 C171.19,198.49 171.06,201.06 170.61,202.93 C170.15,204.79 169.51,205.98 168.67,207.40 C167.83,208.82 167.12,210.23 165.57,211.42 C164.02,212.62 161.70,213.70 159.38,214.56 C157.05,215.41 155.12,215.97 151.63,216.57 C148.15,217.16 142.73,217.65 138.47,218.13 C134.21,218.62 130.34,219.10 126.08,219.47 C121.82,219.85 117.17,220.15 112.91,220.37 C108.65,220.59 104.65,220.74 100.52,220.82 C96.39,220.89 91.49,220.82 88.13,220.82 C84.78,220.82 83.23,220.74 80.39,220.82 C77.55,220.89 73.42,221.04 71.10,221.26 C68.77,221.49 67.48,221.86 66.45,222.16 Z" fill="none" stroke="#3ab8ea" stroke-width="1.1" stroke-linejoin="round" stroke-linecap="round" />
<path d="M64.90,224.62 C64.77,223.65 65.16,220.93 65.67,218.58 C66.19,216.23 66.97,212.77 68.00,210.53 C69.03,208.29 70.19,206.43 71.87,205.16 C73.55,203.90 75.35,203.56 78.06,202.93 C80.78,202.29 84.39,202.00 88.13,201.36 C91.87,200.73 96.39,199.98 100.52,199.13 C104.65,198.27 108.65,197.26 112.91,196.22 C117.17,195.18 121.82,193.91 126.08,192.87 C130.34,191.82 134.21,190.85 138.47,189.96 C142.73,189.06 147.12,188.32 151.63,187.50 C156.15,186.68 161.96,185.79 165.57,185.04 C169.19,184.29 172.09,181.91 173.32,183.03 C174.54,184.15 173.11,188.84 172.93,191.75 C172.75,194.65 172.68,198.23 172.23,200.47 C171.78,202.70 170.88,203.82 170.22,205.16 C169.56,206.51 169.19,207.40 168.28,208.52 C167.38,209.64 166.28,210.83 164.80,211.87 C163.31,212.92 161.18,214.00 159.38,214.78 C157.57,215.56 156.07,216.01 153.96,216.57 C151.84,217.13 149.26,217.65 146.68,218.13 C144.10,218.62 141.90,218.95 138.47,219.47 C135.03,220.00 130.34,220.70 126.08,221.26 C121.82,221.82 117.17,222.42 112.91,222.83 C108.65,223.24 104.65,223.54 100.52,223.72 C96.39,223.91 91.49,223.95 88.13,223.95 C84.78,223.95 83.23,223.72 80.39,223.72 C77.55,223.72 73.42,223.83 71.10,223.95 C68.77,224.06 67.48,224.28 66.45,224.39 Z" fill="none" stroke="#1fa77c" stroke-width="1.3" stroke-linejoin="round" stroke-linecap="round" />
<rect x="49.60" y="151.50" width="139.20" height="111.80" fill="none" stroke="#333" stroke-width="1.1"/>
<line x1="49.41" y1="263.30" x2="49.41" y2="265.50" stroke="#333" stroke-width="0.8"/>
<text x="49.41" y="272.60" font-size="6.4" text-anchor="middle" font-weight="bold" fill="#1a1a1a" stroke="#1a1a1a" stroke-width="0.14" >-0.2</text>
<line x1="64.90" y1="263.30" x2="64.90" y2="265.50" stroke="#333" stroke-width="0.8"/>
<text x="64.90" y="272.60" font-size="6.4" text-anchor="middle" font-weight="bold" fill="#1a1a1a" stroke="#1a1a1a" stroke-width="0.14" >0.0</text>
<line x1="80.39" y1="263.30" x2="80.39" y2="265.50" stroke="#333" stroke-width="0.8"/>
<text x="80.39" y="272.60" font-size="6.4" text-anchor="middle" font-weight="bold" fill="#1a1a1a" stroke="#1a1a1a" stroke-width="0.14" >0.2</text>
<line x1="95.88" y1="263.30" x2="95.88" y2="265.50" stroke="#333" stroke-width="0.8"/>
<text x="95.88" y="272.60" font-size="6.4" text-anchor="middle" font-weight="bold" fill="#1a1a1a" stroke="#1a1a1a" stroke-width="0.14" >0.4</text>
<line x1="111.36" y1="263.30" x2="111.36" y2="265.50" stroke="#333" stroke-width="0.8"/>
<text x="111.36" y="272.60" font-size="6.4" text-anchor="middle" font-weight="bold" fill="#1a1a1a" stroke="#1a1a1a" stroke-width="0.14" >0.6</text>
<line x1="126.85" y1="263.30" x2="126.85" y2="265.50" stroke="#333" stroke-width="0.8"/>
<text x="126.85" y="272.60" font-size="6.4" text-anchor="middle" font-weight="bold" fill="#1a1a1a" stroke="#1a1a1a" stroke-width="0.14" >0.8</text>
<line x1="142.34" y1="263.30" x2="142.34" y2="265.50" stroke="#333" stroke-width="0.8"/>
<text x="142.34" y="272.60" font-size="6.4" text-anchor="middle" font-weight="bold" fill="#1a1a1a" stroke="#1a1a1a" stroke-width="0.14" >1.0</text>
<line x1="157.83" y1="263.30" x2="157.83" y2="265.50" stroke="#333" stroke-width="0.8"/>
<text x="157.83" y="272.60" font-size="6.4" text-anchor="middle" font-weight="bold" fill="#1a1a1a" stroke="#1a1a1a" stroke-width="0.14" >1.2</text>
<line x1="173.32" y1="263.30" x2="173.32" y2="265.50" stroke="#333" stroke-width="0.8"/>
<text x="173.32" y="272.60" font-size="6.4" text-anchor="middle" font-weight="bold" fill="#1a1a1a" stroke="#1a1a1a" stroke-width="0.14" >1.4</text>
<line x1="188.80" y1="263.30" x2="188.80" y2="265.50" stroke="#333" stroke-width="0.8"/>
<text x="188.80" y="272.60" font-size="6.4" text-anchor="middle" font-weight="bold" fill="#1a1a1a" stroke="#1a1a1a" stroke-width="0.14" >1.6</text>
<line x1="57.16" y1="263.30" x2="57.16" y2="264.60" stroke="#333" stroke-width="0.6"/>
<line x1="72.64" y1="263.30" x2="72.64" y2="264.60" stroke="#333" stroke-width="0.6"/>
<line x1="88.13" y1="263.30" x2="88.13" y2="264.60" stroke="#333" stroke-width="0.6"/>
<line x1="103.62" y1="263.30" x2="103.62" y2="264.60" stroke="#333" stroke-width="0.6"/>
<line x1="119.11" y1="263.30" x2="119.11" y2="264.60" stroke="#333" stroke-width="0.6"/>
<line x1="134.60" y1="263.30" x2="134.60" y2="264.60" stroke="#333" stroke-width="0.6"/>
<line x1="150.08" y1="263.30" x2="150.08" y2="264.60" stroke="#333" stroke-width="0.6"/>
<line x1="165.57" y1="263.30" x2="165.57" y2="264.60" stroke="#333" stroke-width="0.6"/>
<line x1="181.06" y1="263.30" x2="181.06" y2="264.60" stroke="#333" stroke-width="0.6"/>
<line x1="47.40" y1="151.50" x2="49.60" y2="151.50" stroke="#333" stroke-width="0.8"/>
<text x="46.40" y="153.70" font-size="6.4" text-anchor="end" font-weight="bold" fill="#1a1a1a" stroke="#1a1a1a" stroke-width="0.14" >25</text>
<line x1="47.40" y1="162.68" x2="49.60" y2="162.68" stroke="#333" stroke-width="0.8"/>
<text x="46.40" y="164.88" font-size="6.4" text-anchor="end" font-weight="bold" fill="#1a1a1a" stroke="#1a1a1a" stroke-width="0.14" >20</text>
<line x1="47.40" y1="173.86" x2="49.60" y2="173.86" stroke="#333" stroke-width="0.8"/>
<text x="46.40" y="176.06" font-size="6.4" text-anchor="end" font-weight="bold" fill="#1a1a1a" stroke="#1a1a1a" stroke-width="0.14" >15</text>
<line x1="47.40" y1="185.04" x2="49.60" y2="185.04" stroke="#333" stroke-width="0.8"/>
<text x="46.40" y="187.24" font-size="6.4" text-anchor="end" font-weight="bold" fill="#1a1a1a" stroke="#1a1a1a" stroke-width="0.14" >10</text>
<line x1="47.40" y1="196.22" x2="49.60" y2="196.22" stroke="#333" stroke-width="0.8"/>
<text x="46.40" y="198.42" font-size="6.4" text-anchor="end" font-weight="bold" fill="#1a1a1a" stroke="#1a1a1a" stroke-width="0.14" >5</text>
<line x1="47.40" y1="207.40" x2="49.60" y2="207.40" stroke="#333" stroke-width="0.8"/>
<text x="46.40" y="209.60" font-size="6.4" text-anchor="end" font-weight="bold" fill="#1a1a1a" stroke="#1a1a1a" stroke-width="0.14" >0</text>
<line x1="47.40" y1="218.58" x2="49.60" y2="218.58" stroke="#333" stroke-width="0.8"/>
<text x="46.40" y="220.78" font-size="6.4" text-anchor="end" font-weight="bold" fill="#1a1a1a" stroke="#1a1a1a" stroke-width="0.14" >-5</text>
<line x1="47.40" y1="229.76" x2="49.60" y2="229.76" stroke="#333" stroke-width="0.8"/>
<text x="46.40" y="231.96" font-size="6.4" text-anchor="end" font-weight="bold" fill="#1a1a1a" stroke="#1a1a1a" stroke-width="0.14" >-10</text>
<line x1="47.40" y1="240.94" x2="49.60" y2="240.94" stroke="#333" stroke-width="0.8"/>
<text x="46.40" y="243.14" font-size="6.4" text-anchor="end" font-weight="bold" fill="#1a1a1a" stroke="#1a1a1a" stroke-width="0.14" >-15</text>
<line x1="47.40" y1="252.12" x2="49.60" y2="252.12" stroke="#333" stroke-width="0.8"/>
<text x="46.40" y="254.32" font-size="6.4" text-anchor="end" font-weight="bold" fill="#1a1a1a" stroke="#1a1a1a" stroke-width="0.14" >-20</text>
<line x1="47.40" y1="263.30" x2="49.60" y2="263.30" stroke="#333" stroke-width="0.8"/>
<text x="46.40" y="265.50" font-size="6.4" text-anchor="end" font-weight="bold" fill="#1a1a1a" stroke="#1a1a1a" stroke-width="0.14" >-25</text>
<line x1="48.30" y1="157.09" x2="49.60" y2="157.09" stroke="#333" stroke-width="0.6"/>
<line x1="48.30" y1="168.27" x2="49.60" y2="168.27" stroke="#333" stroke-width="0.6"/>
<line x1="48.30" y1="179.45" x2="49.60" y2="179.45" stroke="#333" stroke-width="0.6"/>
<line x1="48.30" y1="190.63" x2="49.60" y2="190.63" stroke="#333" stroke-width="0.6"/>
<line x1="48.30" y1="201.81" x2="49.60" y2="201.81" stroke="#333" stroke-width="0.6"/>
<line x1="48.30" y1="212.99" x2="49.60" y2="212.99" stroke="#333" stroke-width="0.6"/>
<line x1="48.30" y1="224.17" x2="49.60" y2="224.17" stroke="#333" stroke-width="0.6"/>
<line x1="48.30" y1="235.35" x2="49.60" y2="235.35" stroke="#333" stroke-width="0.6"/>
<line x1="48.30" y1="246.53" x2="49.60" y2="246.53" stroke="#333" stroke-width="0.6"/>
<line x1="48.30" y1="257.71" x2="49.60" y2="257.71" stroke="#333" stroke-width="0.6"/>
<text x="119.70" y="281.60" font-size="8.45" text-anchor="middle" font-weight="bold" fill="#1a1a1a" stroke="#1a1a1a" stroke-width="0.18" >Potential&#160;&#160;vs. Hg/HgO (V)</text>
<text transform="translate(36.1,207.9) rotate(-90)" font-size="8.35" text-anchor="middle" font-weight="bold" fill="#1a1a1a">Current density (A g<tspan font-size="6" dy="-3.5">-1</tspan><tspan dy="3.5">)</tspan></text>
<line x1="152.90" y1="225.70" x2="162.50" y2="225.70" stroke="#666" stroke-width="1.2"/>
<text x="164.20" y="227.70" font-size="5.8" text-anchor="start" font-weight="bold" fill="#1a1a1a" stroke="#1a1a1a" stroke-width="0.12" >10mV/s</text>
<line x1="152.90" y1="233.00" x2="162.50" y2="233.00" stroke="#f3a72a" stroke-width="1.2"/>
<text x="164.20" y="235.00" font-size="5.8" text-anchor="start" font-weight="bold" fill="#1a1a1a" stroke="#1a1a1a" stroke-width="0.12" >20mV/s</text>
<line x1="152.90" y1="240.40" x2="162.50" y2="240.40" stroke="#3ab8ea" stroke-width="1.2"/>
<text x="164.20" y="242.40" font-size="5.8" text-anchor="start" font-weight="bold" fill="#1a1a1a" stroke="#1a1a1a" stroke-width="0.12" >30mV/s</text>
<line x1="152.90" y1="247.70" x2="162.50" y2="247.70" stroke="#1fa77c" stroke-width="1.2"/>
<text x="164.20" y="249.70" font-size="5.8" text-anchor="start" font-weight="bold" fill="#1a1a1a" stroke="#1a1a1a" stroke-width="0.12" >40mV/s</text>
<line x1="152.90" y1="255.00" x2="162.50" y2="255.00" stroke="#f57f7f" stroke-width="1.2"/>
<text x="164.20" y="257.00" font-size="5.8" text-anchor="start" font-weight="bold" fill="#1a1a1a" stroke="#1a1a1a" stroke-width="0.12" >50mV/s</text>
<text x="201.90" y="153.40" font-size="14" text-anchor="middle" font-weight="bold" fill="#1a1a1a" stroke="#1a1a1a" stroke-width="0.30" >(e)</text>
<path d="M227.40,265.90 C227.54,263.53 227.77,255.66 228.22,251.70 C228.68,247.74 229.37,245.06 230.14,242.11 C230.92,239.17 231.79,236.86 232.89,234.03 C233.98,231.20 235.36,227.70 236.73,225.15 C238.10,222.59 239.47,221.03 241.12,218.71 C242.76,216.39 244.78,213.66 246.61,211.23 C248.43,208.80 250.26,206.50 252.09,204.13 C253.92,201.76 255.75,199.46 257.58,197.03 C259.41,194.60 261.24,192.05 263.07,189.56 C264.90,187.06 266.72,184.58 268.55,182.08 C270.38,179.58 272.39,176.66 274.04,174.55 C275.69,172.43 277.06,170.72 278.43,169.38 C279.80,168.04 281.63,166.98 282.27,166.50 C282.64,167.51 283.55,170.67 284.46,172.53 C285.37,174.40 286.28,175.16 287.74,177.71 C289.19,180.26 291.38,184.42 293.20,187.82 C295.02,191.22 296.84,194.89 298.66,198.09 C300.48,201.30 302.30,204.07 304.13,207.06 C305.95,210.05 307.77,213.03 309.59,216.04 C311.41,219.05 313.23,222.10 315.05,225.11 C316.87,228.12 318.70,231.14 320.52,234.10 C322.34,237.06 324.16,239.69 325.98,242.88 C327.80,246.07 329.99,250.23 331.44,253.22 C332.90,256.21 333.81,258.72 334.72,260.83 C335.63,262.94 336.54,265.05 336.91,265.90" fill="none" stroke="#5b8fd6" stroke-width="1.1" stroke-linejoin="round"/>
<path d="M227.40,265.90 C227.49,263.30 227.57,255.25 227.92,250.28 C228.27,245.31 228.49,241.29 229.49,236.08 C230.49,230.87 232.11,225.07 233.94,219.04 C235.76,213.00 238.29,205.90 240.47,199.87 C242.65,193.83 244.83,188.39 247.01,182.83 C249.18,177.27 252.45,169.22 253.54,166.50 L254.31,171.47 L279.21,265.90" fill="none" stroke="#f57777" stroke-width="1.1" stroke-linejoin="round"/>
<path d="M227.40,265.90 C227.44,263.30 227.48,255.25 227.63,250.28 C227.78,245.31 227.88,241.29 228.32,236.08 C228.76,230.87 229.47,225.07 230.27,219.04 C231.08,213.00 232.19,205.90 233.15,199.87 C234.10,193.83 235.06,188.39 236.02,182.83 C236.98,177.27 238.41,169.22 238.89,166.50 L239.20,171.47 L249.07,265.90" fill="none" stroke="#1fa77c" stroke-width="1.1" stroke-linejoin="round"/>
<path d="M227.40,265.90 C227.42,263.30 227.45,255.25 227.54,250.28 C227.64,245.31 227.70,241.29 227.98,236.08 C228.25,230.87 228.70,225.07 229.20,219.04 C229.71,213.00 230.40,205.90 231.00,199.87 C231.60,193.83 232.20,188.39 232.80,182.83 C233.41,177.27 234.31,169.22 234.61,166.50 L234.79,171.47 L240.82,265.90" fill="none" stroke="#3ab8ea" stroke-width="1.1" stroke-linejoin="round"/>
<path d="M227.40,265.90 C227.42,263.30 227.43,255.25 227.50,250.28 C227.57,245.31 227.61,241.29 227.81,236.08 C228.00,230.87 228.32,225.07 228.68,219.04 C229.04,213.00 229.53,205.90 229.96,199.87 C230.38,193.83 230.81,188.39 231.23,182.83 C231.66,177.27 232.30,169.22 232.51,166.50 L232.65,171.47 L237.20,265.90" fill="none" stroke="#f3a72a" stroke-width="1.1" stroke-linejoin="round"/>
<path d="M227.40,265.90 C227.41,263.30 227.43,255.25 227.48,250.28 C227.54,245.31 227.57,241.29 227.73,236.08 C227.88,230.87 228.14,225.07 228.42,219.04 C228.71,213.00 229.11,205.90 229.45,199.87 C229.79,193.83 230.13,188.39 230.47,182.83 C230.81,177.27 231.33,169.22 231.50,166.50 L231.60,171.47 L234.79,265.90" fill="none" stroke="#555555" stroke-width="1.1" stroke-linejoin="round"/>
<rect x="227.40" y="152.30" width="141.30" height="113.60" fill="none" stroke="#333" stroke-width="1.1"/>
<line x1="227.40" y1="265.90" x2="227.40" y2="268.10" stroke="#333" stroke-width="0.8"/>
<text x="227.40" y="275.20" font-size="6.4" text-anchor="middle" font-weight="bold" fill="#1a1a1a" stroke="#1a1a1a" stroke-width="0.14" >0</text>
<line x1="250.95" y1="265.90" x2="250.95" y2="268.10" stroke="#333" stroke-width="0.8"/>
<text x="250.95" y="275.20" font-size="6.4" text-anchor="middle" font-weight="bold" fill="#1a1a1a" stroke="#1a1a1a" stroke-width="0.14" >100</text>
<line x1="274.50" y1="265.90" x2="274.50" y2="268.10" stroke="#333" stroke-width="0.8"/>
<text x="274.50" y="275.20" font-size="6.4" text-anchor="middle" font-weight="bold" fill="#1a1a1a" stroke="#1a1a1a" stroke-width="0.14" >200</text>
<line x1="298.05" y1="265.90" x2="298.05" y2="268.10" stroke="#333" stroke-width="0.8"/>
<text x="298.05" y="275.20" font-size="6.4" text-anchor="middle" font-weight="bold" fill="#1a1a1a" stroke="#1a1a1a" stroke-width="0.14" >300</text>
<line x1="321.60" y1="265.90" x2="321.60" y2="268.10" stroke="#333" stroke-width="0.8"/>
<text x="321.60" y="275.20" font-size="6.4" text-anchor="middle" font-weight="bold" fill="#1a1a1a" stroke="#1a1a1a" stroke-width="0.14" >400</text>
<line x1="345.15" y1="265.90" x2="345.15" y2="268.10" stroke="#333" stroke-width="0.8"/>
<text x="345.15" y="275.20" font-size="6.4" text-anchor="middle" font-weight="bold" fill="#1a1a1a" stroke="#1a1a1a" stroke-width="0.14" >500</text>
<line x1="368.70" y1="265.90" x2="368.70" y2="268.10" stroke="#333" stroke-width="0.8"/>
<text x="368.70" y="275.20" font-size="6.4" text-anchor="middle" font-weight="bold" fill="#1a1a1a" stroke="#1a1a1a" stroke-width="0.14" >600</text>
<line x1="239.18" y1="265.90" x2="239.18" y2="267.20" stroke="#333" stroke-width="0.6"/>
<line x1="262.73" y1="265.90" x2="262.73" y2="267.20" stroke="#333" stroke-width="0.6"/>
<line x1="286.27" y1="265.90" x2="286.27" y2="267.20" stroke="#333" stroke-width="0.6"/>
<line x1="309.82" y1="265.90" x2="309.82" y2="267.20" stroke="#333" stroke-width="0.6"/>
<line x1="333.38" y1="265.90" x2="333.38" y2="267.20" stroke="#333" stroke-width="0.6"/>
<line x1="356.93" y1="265.90" x2="356.93" y2="267.20" stroke="#333" stroke-width="0.6"/>
<line x1="225.20" y1="265.90" x2="227.40" y2="265.90" stroke="#333" stroke-width="0.8"/>
<text x="224.20" y="268.10" font-size="6.4" text-anchor="end" font-weight="bold" fill="#1a1a1a" stroke="#1a1a1a" stroke-width="0.14" >0.0</text>
<line x1="225.20" y1="251.70" x2="227.40" y2="251.70" stroke="#333" stroke-width="0.8"/>
<text x="224.20" y="253.90" font-size="6.4" text-anchor="end" font-weight="bold" fill="#1a1a1a" stroke="#1a1a1a" stroke-width="0.14" >0.2</text>
<line x1="225.20" y1="237.50" x2="227.40" y2="237.50" stroke="#333" stroke-width="0.8"/>
<text x="224.20" y="239.70" font-size="6.4" text-anchor="end" font-weight="bold" fill="#1a1a1a" stroke="#1a1a1a" stroke-width="0.14" >0.4</text>
<line x1="225.20" y1="223.30" x2="227.40" y2="223.30" stroke="#333" stroke-width="0.8"/>
<text x="224.20" y="225.50" font-size="6.4" text-anchor="end" font-weight="bold" fill="#1a1a1a" stroke="#1a1a1a" stroke-width="0.14" >0.6</text>
<line x1="225.20" y1="209.10" x2="227.40" y2="209.10" stroke="#333" stroke-width="0.8"/>
<text x="224.20" y="211.30" font-size="6.4" text-anchor="end" font-weight="bold" fill="#1a1a1a" stroke="#1a1a1a" stroke-width="0.14" >0.8</text>
<line x1="225.20" y1="194.90" x2="227.40" y2="194.90" stroke="#333" stroke-width="0.8"/>
<text x="224.20" y="197.10" font-size="6.4" text-anchor="end" font-weight="bold" fill="#1a1a1a" stroke="#1a1a1a" stroke-width="0.14" >1.0</text>
<line x1="225.20" y1="180.70" x2="227.40" y2="180.70" stroke="#333" stroke-width="0.8"/>
<text x="224.20" y="182.90" font-size="6.4" text-anchor="end" font-weight="bold" fill="#1a1a1a" stroke="#1a1a1a" stroke-width="0.14" >1.2</text>
<line x1="225.20" y1="166.50" x2="227.40" y2="166.50" stroke="#333" stroke-width="0.8"/>
<text x="224.20" y="168.70" font-size="6.4" text-anchor="end" font-weight="bold" fill="#1a1a1a" stroke="#1a1a1a" stroke-width="0.14" >1.4</text>
<line x1="225.20" y1="152.30" x2="227.40" y2="152.30" stroke="#333" stroke-width="0.8"/>
<text x="224.20" y="154.50" font-size="6.4" text-anchor="end" font-weight="bold" fill="#1a1a1a" stroke="#1a1a1a" stroke-width="0.14" >1.6</text>
<line x1="226.10" y1="258.80" x2="227.40" y2="258.80" stroke="#333" stroke-width="0.6"/>
<line x1="226.10" y1="244.60" x2="227.40" y2="244.60" stroke="#333" stroke-width="0.6"/>
<line x1="226.10" y1="230.40" x2="227.40" y2="230.40" stroke="#333" stroke-width="0.6"/>
<line x1="226.10" y1="216.20" x2="227.40" y2="216.20" stroke="#333" stroke-width="0.6"/>
<line x1="226.10" y1="202.00" x2="227.40" y2="202.00" stroke="#333" stroke-width="0.6"/>
<line x1="226.10" y1="187.80" x2="227.40" y2="187.80" stroke="#333" stroke-width="0.6"/>
<line x1="226.10" y1="173.60" x2="227.40" y2="173.60" stroke="#333" stroke-width="0.6"/>
<line x1="226.10" y1="159.40" x2="227.40" y2="159.40" stroke="#333" stroke-width="0.6"/>
<text x="298.60" y="284.60" font-size="8.6" text-anchor="middle" font-weight="bold" fill="#1a1a1a" stroke="#1a1a1a" stroke-width="0.18" >Time (s)</text>
<text transform="translate(212.00,207.90) rotate(-90)" font-size="8.5" text-anchor="middle" font-weight="bold" fill="#1a1a1a">Potential vs. Hg/HgO(V)</text>
<line x1="339.50" y1="159.50" x2="348.10" y2="159.50" stroke="#5b8fd6" stroke-width="1.1"/>
<text x="363.80" y="161.40" font-size="5.4" text-anchor="end" font-weight="bold" fill="#1a1a1a" stroke="#1a1a1a" stroke-width="0.12" >1 A/g</text>
<line x1="339.50" y1="166.70" x2="348.10" y2="166.70" stroke="#f57777" stroke-width="1.1"/>
<text x="363.80" y="168.60" font-size="5.4" text-anchor="end" font-weight="bold" fill="#1a1a1a" stroke="#1a1a1a" stroke-width="0.12" >2 A/g</text>
<line x1="339.50" y1="174.10" x2="348.10" y2="174.10" stroke="#1fa77c" stroke-width="1.1"/>
<text x="363.80" y="176.00" font-size="5.4" text-anchor="end" font-weight="bold" fill="#1a1a1a" stroke="#1a1a1a" stroke-width="0.12" >4 A/g</text>
<line x1="339.50" y1="181.40" x2="348.10" y2="181.40" stroke="#3ab8ea" stroke-width="1.1"/>
<text x="363.80" y="183.30" font-size="5.4" text-anchor="end" font-weight="bold" fill="#1a1a1a" stroke="#1a1a1a" stroke-width="0.12" >6 A/g</text>
<line x1="339.50" y1="188.40" x2="348.10" y2="188.40" stroke="#f3a72a" stroke-width="1.1"/>
<text x="363.80" y="190.30" font-size="5.4" text-anchor="end" font-weight="bold" fill="#1a1a1a" stroke="#1a1a1a" stroke-width="0.12" >8 A/g</text>
<line x1="339.50" y1="195.60" x2="348.10" y2="195.60" stroke="#555555" stroke-width="1.1"/>
<text x="363.80" y="197.50" font-size="5.4" text-anchor="end" font-weight="bold" fill="#1a1a1a" stroke="#1a1a1a" stroke-width="0.12" >10 A/g</text>
<text x="379.30" y="153.70" font-size="14" text-anchor="middle" font-weight="bold" fill="#1a1a1a" stroke="#1a1a1a" stroke-width="0.30" >(f)</text>
<circle cx="498.70" cy="160.90" r="1.9" fill="url(#sph_k)"/>
<circle cx="478.50" cy="183.50" r="1.9" fill="url(#sph_k)"/>
<circle cx="464.90" cy="199.60" r="1.9" fill="url(#sph_k)"/>
<circle cx="455.90" cy="209.20" r="1.9" fill="url(#sph_k)"/>
<circle cx="446.90" cy="217.40" r="1.9" fill="url(#sph_k)"/>
<circle cx="440.40" cy="224.40" r="1.9" fill="url(#sph_k)"/>
<circle cx="434.90" cy="231.30" r="1.9" fill="url(#sph_k)"/>
<circle cx="430.00" cy="236.70" r="1.9" fill="url(#sph_k)"/>
<circle cx="427.00" cy="239.20" r="1.9" fill="url(#sph_k)"/>
<circle cx="424.40" cy="241.20" r="1.9" fill="url(#sph_k)"/>
<circle cx="422.00" cy="243.00" r="1.9" fill="url(#sph_k)"/>
<circle cx="419.80" cy="244.80" r="1.9" fill="url(#sph_k)"/>
<circle cx="417.80" cy="246.60" r="1.9" fill="url(#sph_k)"/>
<circle cx="415.90" cy="248.40" r="1.9" fill="url(#sph_k)"/>
<circle cx="414.10" cy="250.20" r="1.9" fill="url(#sph_k)"/>
<circle cx="412.40" cy="252.10" r="1.9" fill="url(#sph_k)"/>
<circle cx="410.80" cy="254.00" r="1.9" fill="url(#sph_k)"/>
<circle cx="409.30" cy="255.80" r="1.9" fill="url(#sph_k)"/>
<circle cx="407.90" cy="257.60" r="1.9" fill="url(#sph_k)"/>
<circle cx="406.60" cy="259.30" r="1.9" fill="url(#sph_k)"/>
<circle cx="405.40" cy="260.80" r="1.9" fill="url(#sph_k)"/>
<circle cx="404.40" cy="262.00" r="1.9" fill="url(#sph_k)"/>
<circle cx="431.40" cy="222.30" r="1.9" fill="url(#sph_r)"/>
<circle cx="424.00" cy="231.30" r="1.9" fill="url(#sph_r)"/>
<circle cx="419.10" cy="238.60" r="1.9" fill="url(#sph_r)"/>
<circle cx="415.00" cy="246.00" r="1.9" fill="url(#sph_r)"/>
<circle cx="413.10" cy="249.50" r="1.9" fill="url(#sph_r)"/>
<circle cx="411.50" cy="252.30" r="1.9" fill="url(#sph_r)"/>
<circle cx="410.20" cy="255.00" r="1.9" fill="url(#sph_r)"/>
<circle cx="409.00" cy="257.00" r="1.9" fill="url(#sph_r)"/>
<circle cx="407.80" cy="258.80" r="1.9" fill="url(#sph_r)"/>
<circle cx="406.70" cy="260.30" r="1.9" fill="url(#sph_r)"/>
<circle cx="405.60" cy="261.40" r="1.9" fill="url(#sph_r)"/>
<circle cx="404.60" cy="262.20" r="1.9" fill="url(#sph_r)"/>
<rect x="402.10" y="151.30" width="141.70" height="113.30" fill="none" stroke="#333" stroke-width="1.1"/>
<line x1="403.80" y1="264.60" x2="403.80" y2="266.80" stroke="#333" stroke-width="0.8"/>
<text x="403.80" y="274.50" font-size="6.4" text-anchor="middle" font-weight="bold" fill="#1a1a1a" stroke="#1a1a1a" stroke-width="0.14" >0</text>
<line x1="421.23" y1="264.60" x2="421.23" y2="266.80" stroke="#333" stroke-width="0.8"/>
<text x="421.23" y="274.50" font-size="6.4" text-anchor="middle" font-weight="bold" fill="#1a1a1a" stroke="#1a1a1a" stroke-width="0.14" >50</text>
<line x1="438.65" y1="264.60" x2="438.65" y2="266.80" stroke="#333" stroke-width="0.8"/>
<text x="438.65" y="274.50" font-size="6.4" text-anchor="middle" font-weight="bold" fill="#1a1a1a" stroke="#1a1a1a" stroke-width="0.14" >100</text>
<line x1="456.07" y1="264.60" x2="456.07" y2="266.80" stroke="#333" stroke-width="0.8"/>
<text x="456.07" y="274.50" font-size="6.4" text-anchor="middle" font-weight="bold" fill="#1a1a1a" stroke="#1a1a1a" stroke-width="0.14" >150</text>
<line x1="473.50" y1="264.60" x2="473.50" y2="266.80" stroke="#333" stroke-width="0.8"/>
<text x="473.50" y="274.50" font-size="6.4" text-anchor="middle" font-weight="bold" fill="#1a1a1a" stroke="#1a1a1a" stroke-width="0.14" >200</text>
<line x1="490.93" y1="264.60" x2="490.93" y2="266.80" stroke="#333" stroke-width="0.8"/>
<text x="490.93" y="274.50" font-size="6.4" text-anchor="middle" font-weight="bold" fill="#1a1a1a" stroke="#1a1a1a" stroke-width="0.14" >250</text>
<line x1="508.35" y1="264.60" x2="508.35" y2="266.80" stroke="#333" stroke-width="0.8"/>
<text x="508.35" y="274.50" font-size="6.4" text-anchor="middle" font-weight="bold" fill="#1a1a1a" stroke="#1a1a1a" stroke-width="0.14" >300</text>
<line x1="525.77" y1="264.60" x2="525.77" y2="266.80" stroke="#333" stroke-width="0.8"/>
<text x="525.77" y="274.50" font-size="6.4" text-anchor="middle" font-weight="bold" fill="#1a1a1a" stroke="#1a1a1a" stroke-width="0.14" >350</text>
<line x1="543.20" y1="264.60" x2="543.20" y2="266.80" stroke="#333" stroke-width="0.8"/>
<text x="543.20" y="274.50" font-size="6.4" text-anchor="middle" font-weight="bold" fill="#1a1a1a" stroke="#1a1a1a" stroke-width="0.14" >400</text>
<line x1="412.51" y1="264.60" x2="412.51" y2="265.90" stroke="#333" stroke-width="0.6"/>
<line x1="429.94" y1="264.60" x2="429.94" y2="265.90" stroke="#333" stroke-width="0.6"/>
<line x1="447.36" y1="264.60" x2="447.36" y2="265.90" stroke="#333" stroke-width="0.6"/>
<line x1="464.79" y1="264.60" x2="464.79" y2="265.90" stroke="#333" stroke-width="0.6"/>
<line x1="482.21" y1="264.60" x2="482.21" y2="265.90" stroke="#333" stroke-width="0.6"/>
<line x1="499.64" y1="264.60" x2="499.64" y2="265.90" stroke="#333" stroke-width="0.6"/>
<line x1="517.06" y1="264.60" x2="517.06" y2="265.90" stroke="#333" stroke-width="0.6"/>
<line x1="534.49" y1="264.60" x2="534.49" y2="265.90" stroke="#333" stroke-width="0.6"/>
<line x1="399.90" y1="262.70" x2="402.10" y2="262.70" stroke="#333" stroke-width="0.8"/>
<text x="397.90" y="264.90" font-size="6.4" text-anchor="end" font-weight="bold" fill="#1a1a1a" stroke="#1a1a1a" stroke-width="0.14" >0</text>
<line x1="399.90" y1="237.90" x2="402.10" y2="237.90" stroke="#333" stroke-width="0.8"/>
<text x="397.90" y="240.10" font-size="6.4" text-anchor="end" font-weight="bold" fill="#1a1a1a" stroke="#1a1a1a" stroke-width="0.14" >50</text>
<line x1="399.90" y1="213.10" x2="402.10" y2="213.10" stroke="#333" stroke-width="0.8"/>
<text x="397.90" y="215.30" font-size="6.4" text-anchor="end" font-weight="bold" fill="#1a1a1a" stroke="#1a1a1a" stroke-width="0.14" >100</text>
<line x1="399.90" y1="188.30" x2="402.10" y2="188.30" stroke="#333" stroke-width="0.8"/>
<text x="397.90" y="190.50" font-size="6.4" text-anchor="end" font-weight="bold" fill="#1a1a1a" stroke="#1a1a1a" stroke-width="0.14" >150</text>
<line x1="399.90" y1="163.50" x2="402.10" y2="163.50" stroke="#333" stroke-width="0.8"/>
<text x="397.90" y="165.70" font-size="6.4" text-anchor="end" font-weight="bold" fill="#1a1a1a" stroke="#1a1a1a" stroke-width="0.14" >200</text>
<line x1="400.80" y1="250.30" x2="402.10" y2="250.30" stroke="#333" stroke-width="0.6"/>
<line x1="400.80" y1="225.50" x2="402.10" y2="225.50" stroke="#333" stroke-width="0.6"/>
<line x1="400.80" y1="200.70" x2="402.10" y2="200.70" stroke="#333" stroke-width="0.6"/>
<line x1="400.80" y1="175.90" x2="402.10" y2="175.90" stroke="#333" stroke-width="0.6"/>
<line x1="400.80" y1="151.10" x2="402.10" y2="151.10" stroke="#333" stroke-width="0.6"/>
<text x="473.10" y="284.10" font-size="8.5" text-anchor="middle" font-weight="bold" fill="#1a1a1a" stroke="#1a1a1a" stroke-width="0.18" >Z' (ohm)</text>
<text transform="translate(384.90,207.70) rotate(-90)" font-size="8.2" text-anchor="middle" font-weight="bold" fill="#1a1a1a">Z'' (ohm)</text>
<circle cx="515.40" cy="160.60" r="1.7" fill="url(#sph_k)"/>
<text x="523.00" y="162.90" font-size="6.2" text-anchor="start" font-weight="bold" fill="#1a1a1a" stroke="#1a1a1a" stroke-width="0.13" >After</text>
<circle cx="515.40" cy="167.40" r="1.7" fill="url(#sph_r)"/>
<text x="523.00" y="169.70" font-size="6.2" text-anchor="start" font-weight="bold" fill="#1a1a1a" stroke="#1a1a1a" stroke-width="0.13" >Before</text>
<path d="M404.5,164 C405.5,163 406.5,162.4 408,162.3 L410.1,162.3 M419.6,162.3 L431.1,162.3 L431.1,156.9 L446,156.9 M447.5,156.9 L478.2,156.9 L478.2,162.3 L481.5,162.3 C482.5,162.2 483.5,161.5 484.5,160.5 M431.1,162.3 L431.1,167.7 L446.6,167.7 M455.6,167.7 L465.1,167.7 M468.4,167.7 L478.2,167.7 L478.2,162.3" fill="none" stroke="#666" stroke-width="0.6"/>
<rect x="410.1" y="161" width="9.5" height="2.8" rx="1.2" fill="#fff" stroke="#666" stroke-width="0.6"/>
<rect x="446.6" y="166.3" width="9" height="2.8" rx="1.2" fill="#fff" stroke="#666" stroke-width="0.6"/>
<rect x="465.1" y="166.7" width="3.3" height="2" fill="#444"/>
<path d="M445.6,155.2 L446.6,158.6 M447.2,155.2 L448.2,158.6" stroke="#666" stroke-width="0.6"/>
<text x="415.50" y="168.00" font-size="3.2" text-anchor="middle" font-weight="normal" fill="#555" >Rs</text>
<text x="447.30" y="162.60" font-size="3.2" text-anchor="middle" font-weight="normal" fill="#555" >CPE</text>
<text x="450.70" y="173.60" font-size="3.2" text-anchor="middle" font-weight="normal" fill="#555" >Rct</text>
<text x="467.10" y="173.60" font-size="3.2" text-anchor="middle" font-weight="normal" fill="#555" >W2</text>
<rect x="473.2" y="205.5" width="67.80000000000001" height="52.0" fill="#fff" stroke="#333" stroke-width="0.7"/>
<rect x="477.0" y="251.6" width="12.60" height="5.90" fill="url(#bar_r)" stroke="#555" stroke-width="0.3"/>
<text x="483.30" y="250.60" font-size="3.0" text-anchor="middle" font-weight="normal" fill="#333" >3.85</text>
<rect x="489.6" y="242.2" width="13.90" height="15.30" fill="url(#bar_g)" stroke="#555" stroke-width="0.3"/>
<text x="496.55" y="241.20" font-size="3.0" text-anchor="middle" font-weight="normal" fill="#333" >7.143</text>
<rect x="510.4" y="241.2" width="13.70" height="16.30" fill="url(#bar_r)" stroke="#555" stroke-width="0.3"/>
<text x="517.25" y="240.20" font-size="3.0" text-anchor="middle" font-weight="normal" fill="#333" >7.88</text>
<rect x="524.1" y="221.1" width="13.10" height="36.40" fill="url(#bar_g)" stroke="#555" stroke-width="0.3"/>
<text x="530.65" y="220.10" font-size="3.0" text-anchor="middle" font-weight="normal" fill="#333" >17.56</text>
<rect x="476.1" y="209.3" width="7" height="2.7" fill="url(#bar_r)"/>
<rect x="476.1" y="216.0" width="7" height="2.7" fill="url(#bar_g)"/>
<text x="484.50" y="211.90" font-size="3.2" text-anchor="start" font-weight="normal" fill="#333" >R<tspan font-size="2.2" dy="0.8">s</tspan></text>
<text x="484.50" y="218.60" font-size="3.2" text-anchor="start" font-weight="normal" fill="#333" >R<tspan font-size="2.2" dy="0.8">ct</tspan></text>
<line x1="472.00" y1="257.50" x2="473.20" y2="257.50" stroke="#333" stroke-width="0.4"/>
<line x1="472.00" y1="249.60" x2="473.20" y2="249.60" stroke="#333" stroke-width="0.4"/>
<line x1="472.00" y1="241.70" x2="473.20" y2="241.70" stroke="#333" stroke-width="0.4"/>
<line x1="472.00" y1="233.80" x2="473.20" y2="233.80" stroke="#333" stroke-width="0.4"/>
<line x1="472.00" y1="225.90" x2="473.20" y2="225.90" stroke="#333" stroke-width="0.4"/>
<line x1="472.00" y1="218.00" x2="473.20" y2="218.00" stroke="#333" stroke-width="0.4"/>
<line x1="472.00" y1="210.10" x2="473.20" y2="210.10" stroke="#333" stroke-width="0.4"/>
<text x="471.60" y="258.30" font-size="2.4" text-anchor="end" font-weight="normal" fill="#444" >0</text>
<text x="471.60" y="250.40" font-size="2.4" text-anchor="end" font-weight="normal" fill="#444" >4</text>
<text x="471.60" y="242.50" font-size="2.4" text-anchor="end" font-weight="normal" fill="#444" >8</text>
<text x="471.60" y="234.60" font-size="2.4" text-anchor="end" font-weight="normal" fill="#444" >12</text>
<text x="471.60" y="226.70" font-size="2.4" text-anchor="end" font-weight="normal" fill="#444" >16</text>
<text x="471.60" y="218.80" font-size="2.4" text-anchor="end" font-weight="normal" fill="#444" >20</text>
<text x="471.60" y="210.90" font-size="2.4" text-anchor="end" font-weight="normal" fill="#444" >24</text>
<text transform="translate(468.0,231.5) rotate(-90)" font-size="2.8" text-anchor="middle" fill="#333">Z' (ohm)</text>
<text x="491.10" y="263.00" font-size="4.6" text-anchor="middle" font-weight="bold" fill="#222" stroke="#222" stroke-width="0.10" >Before</text>
<text x="526.00" y="263.00" font-size="4.6" text-anchor="middle" font-weight="bold" fill="#222" stroke="#222" stroke-width="0.10" >After</text>
<text x="15.00" y="288.20" font-size="14" text-anchor="middle" font-weight="bold" fill="#1a1a1a" stroke="#1a1a1a" stroke-width="0.30" >(g)</text>
<rect x="53.50" y="291.80" width="277.00" height="117.30" fill="none" stroke="#333" stroke-width="1.1"/>
<line x1="56.90" y1="409.10" x2="56.90" y2="411.30" stroke="#333" stroke-width="0.8"/>
<text x="56.90" y="419.10" font-size="7.0" text-anchor="middle" font-weight="bold" fill="#1a1a1a" stroke="#1a1a1a" stroke-width="0.15" >0</text>
<line x1="110.50" y1="409.10" x2="110.50" y2="411.30" stroke="#333" stroke-width="0.8"/>
<text x="110.50" y="419.10" font-size="7.0" text-anchor="middle" font-weight="bold" fill="#1a1a1a" stroke="#1a1a1a" stroke-width="0.15" >1000</text>
<line x1="164.10" y1="409.10" x2="164.10" y2="411.30" stroke="#333" stroke-width="0.8"/>
<text x="164.10" y="419.10" font-size="7.0" text-anchor="middle" font-weight="bold" fill="#1a1a1a" stroke="#1a1a1a" stroke-width="0.15" >2000</text>
<line x1="217.70" y1="409.10" x2="217.70" y2="411.30" stroke="#333" stroke-width="0.8"/>
<text x="217.70" y="419.10" font-size="7.0" text-anchor="middle" font-weight="bold" fill="#1a1a1a" stroke="#1a1a1a" stroke-width="0.15" >3000</text>
<line x1="271.30" y1="409.10" x2="271.30" y2="411.30" stroke="#333" stroke-width="0.8"/>
<text x="271.30" y="419.10" font-size="7.0" text-anchor="middle" font-weight="bold" fill="#1a1a1a" stroke="#1a1a1a" stroke-width="0.15" >4000</text>
<line x1="324.90" y1="409.10" x2="324.90" y2="411.30" stroke="#333" stroke-width="0.8"/>
<text x="324.90" y="419.10" font-size="7.0" text-anchor="middle" font-weight="bold" fill="#1a1a1a" stroke="#1a1a1a" stroke-width="0.15" >5000</text>
<line x1="83.70" y1="409.10" x2="83.70" y2="410.40" stroke="#333" stroke-width="0.6"/>
<line x1="137.30" y1="409.10" x2="137.30" y2="410.40" stroke="#333" stroke-width="0.6"/>
<line x1="190.90" y1="409.10" x2="190.90" y2="410.40" stroke="#333" stroke-width="0.6"/>
<line x1="244.50" y1="409.10" x2="244.50" y2="410.40" stroke="#333" stroke-width="0.6"/>
<line x1="298.10" y1="409.10" x2="298.10" y2="410.40" stroke="#333" stroke-width="0.6"/>
<line x1="351.70" y1="409.10" x2="351.70" y2="410.40" stroke="#333" stroke-width="0.6"/>
<line x1="51.30" y1="409.10" x2="53.50" y2="409.10" stroke="#333" stroke-width="0.8"/>
<text x="49.80" y="411.50" font-size="7.0" text-anchor="end" font-weight="bold" fill="#1a1a1a" stroke="#1a1a1a" stroke-width="0.15" >0</text>
<line x1="51.30" y1="386.74" x2="53.50" y2="386.74" stroke="#333" stroke-width="0.8"/>
<text x="49.80" y="389.14" font-size="7.0" text-anchor="end" font-weight="bold" fill="#1a1a1a" stroke="#1a1a1a" stroke-width="0.15" >20</text>
<line x1="51.30" y1="364.38" x2="53.50" y2="364.38" stroke="#333" stroke-width="0.8"/>
<text x="49.80" y="366.78" font-size="7.0" text-anchor="end" font-weight="bold" fill="#1a1a1a" stroke="#1a1a1a" stroke-width="0.15" >40</text>
<line x1="51.30" y1="342.02" x2="53.50" y2="342.02" stroke="#333" stroke-width="0.8"/>
<text x="49.80" y="344.42" font-size="7.0" text-anchor="end" font-weight="bold" fill="#1a1a1a" stroke="#1a1a1a" stroke-width="0.15" >60</text>
<line x1="51.30" y1="319.66" x2="53.50" y2="319.66" stroke="#333" stroke-width="0.8"/>
<text x="49.80" y="322.06" font-size="7.0" text-anchor="end" font-weight="bold" fill="#1a1a1a" stroke="#1a1a1a" stroke-width="0.15" >80</text>
<line x1="51.30" y1="297.30" x2="53.50" y2="297.30" stroke="#333" stroke-width="0.8"/>
<text x="49.80" y="299.70" font-size="7.0" text-anchor="end" font-weight="bold" fill="#1a1a1a" stroke="#1a1a1a" stroke-width="0.15" >100</text>
<line x1="52.20" y1="397.92" x2="53.50" y2="397.92" stroke="#333" stroke-width="0.6"/>
<line x1="52.20" y1="375.56" x2="53.50" y2="375.56" stroke="#333" stroke-width="0.6"/>
<line x1="52.20" y1="353.20" x2="53.50" y2="353.20" stroke="#333" stroke-width="0.6"/>
<line x1="52.20" y1="330.84" x2="53.50" y2="330.84" stroke="#333" stroke-width="0.6"/>
<line x1="52.20" y1="308.48" x2="53.50" y2="308.48" stroke="#333" stroke-width="0.6"/>
<text x="192.40" y="427.90" font-size="9.36" text-anchor="middle" font-weight="bold" fill="#1a1a1a" stroke="#1a1a1a" stroke-width="0.20" >Cycling numbers</text>
<text transform="translate(35.30,350.40) rotate(-90)" font-size="9.4" text-anchor="middle" font-weight="bold" fill="#1a1a1a">Capacitance retention(%)</text>
<circle cx="56.90" cy="297.30" r="2.0" fill="url(#sph_R)"/>
<circle cx="62.26" cy="297.70" r="2.0" fill="url(#sph_R)"/>
<circle cx="67.62" cy="298.35" r="2.0" fill="url(#sph_R)"/>
<circle cx="72.98" cy="298.54" r="2.0" fill="url(#sph_R)"/>
<circle cx="78.34" cy="298.96" r="2.0" fill="url(#sph_R)"/>
<circle cx="83.70" cy="300.04" r="2.0" fill="url(#sph_R)"/>
<circle cx="89.06" cy="300.55" r="2.0" fill="url(#sph_R)"/>
<circle cx="94.42" cy="300.07" r="2.0" fill="url(#sph_R)"/>
<circle cx="99.78" cy="301.17" r="2.0" fill="url(#sph_R)"/>
<circle cx="105.14" cy="301.64" r="2.0" fill="url(#sph_R)"/>
<circle cx="110.50" cy="301.23" r="2.0" fill="url(#sph_R)"/>
<circle cx="115.86" cy="302.26" r="2.0" fill="url(#sph_R)"/>
<circle cx="121.22" cy="302.29" r="2.0" fill="url(#sph_R)"/>
<circle cx="126.58" cy="303.12" r="2.0" fill="url(#sph_R)"/>
<circle cx="131.94" cy="303.37" r="2.0" fill="url(#sph_R)"/>
<circle cx="137.30" cy="304.35" r="2.0" fill="url(#sph_R)"/>
<circle cx="142.66" cy="304.24" r="2.0" fill="url(#sph_R)"/>
<circle cx="148.02" cy="304.40" r="2.0" fill="url(#sph_R)"/>
<circle cx="153.38" cy="305.21" r="2.0" fill="url(#sph_R)"/>
<circle cx="158.74" cy="305.38" r="2.0" fill="url(#sph_R)"/>
<circle cx="164.10" cy="305.87" r="2.0" fill="url(#sph_R)"/>
<circle cx="169.46" cy="306.96" r="2.0" fill="url(#sph_R)"/>
<circle cx="174.82" cy="306.60" r="2.0" fill="url(#sph_R)"/>
<circle cx="180.18" cy="307.19" r="2.0" fill="url(#sph_R)"/>
<circle cx="185.54" cy="307.91" r="2.0" fill="url(#sph_R)"/>
<circle cx="190.90" cy="308.61" r="2.0" fill="url(#sph_R)"/>
<circle cx="196.26" cy="308.07" r="2.0" fill="url(#sph_R)"/>
<circle cx="201.62" cy="308.90" r="2.0" fill="url(#sph_R)"/>
<circle cx="206.98" cy="309.02" r="2.0" fill="url(#sph_R)"/>
<circle cx="212.34" cy="309.22" r="2.0" fill="url(#sph_R)"/>
<circle cx="217.70" cy="309.78" r="2.0" fill="url(#sph_R)"/>
<circle cx="223.06" cy="309.93" r="2.0" fill="url(#sph_R)"/>
<circle cx="228.42" cy="310.89" r="2.0" fill="url(#sph_R)"/>
<circle cx="233.78" cy="310.81" r="2.0" fill="url(#sph_R)"/>
<circle cx="239.14" cy="311.57" r="2.0" fill="url(#sph_R)"/>
<circle cx="244.50" cy="311.39" r="2.0" fill="url(#sph_R)"/>
<circle cx="249.86" cy="311.81" r="2.0" fill="url(#sph_R)"/>
<circle cx="255.22" cy="313.05" r="2.0" fill="url(#sph_R)"/>
<circle cx="260.58" cy="313.36" r="2.0" fill="url(#sph_R)"/>
<circle cx="265.94" cy="313.62" r="2.0" fill="url(#sph_R)"/>
<circle cx="271.30" cy="313.14" r="2.0" fill="url(#sph_R)"/>
<circle cx="276.66" cy="314.08" r="2.0" fill="url(#sph_R)"/>
<circle cx="282.02" cy="314.21" r="2.0" fill="url(#sph_R)"/>
<circle cx="287.38" cy="314.92" r="2.0" fill="url(#sph_R)"/>
<circle cx="292.74" cy="315.04" r="2.0" fill="url(#sph_R)"/>
<circle cx="298.10" cy="315.51" r="2.0" fill="url(#sph_R)"/>
<circle cx="303.46" cy="315.89" r="2.0" fill="url(#sph_R)"/>
<circle cx="308.82" cy="315.97" r="2.0" fill="url(#sph_R)"/>
<circle cx="314.18" cy="316.31" r="2.0" fill="url(#sph_R)"/>
<circle cx="319.54" cy="316.30" r="2.0" fill="url(#sph_R)"/>
<circle cx="324.90" cy="317.09" r="2.0" fill="url(#sph_R)"/>
<text x="308.60" y="301.80" font-size="6.4" text-anchor="middle" font-weight="bold" fill="#1a1a1a" stroke="#1a1a1a" stroke-width="0.14" >82.3%</text>
<line x1="313.5" y1="306.2" x2="324.8" y2="315.6" stroke="#222" stroke-width="0.6"/>
<path d="M312.2,305.1 L315.6,306.3 L314.0,308.1 Z" fill="#222"/>
<rect x="85.4" y="330.6" width="92.10" height="59.80" fill="#fff" stroke="#333" stroke-width="0.75"/>
<text x="128.50" y="326.60" font-size="8.3" text-anchor="middle" font-weight="bold" fill="#111" stroke="#111" stroke-width="0.18" >Initial 5 cycles</text>
<line x1="84.40" y1="390.40" x2="85.40" y2="390.40" stroke="#444" stroke-width="0.4"/>
<text x="84.00" y="391.60" font-size="3.5" text-anchor="end" font-weight="bold" fill="#333" stroke="#333" stroke-width="0.07" >0.0</text>
<line x1="84.40" y1="382.92" x2="85.40" y2="382.92" stroke="#444" stroke-width="0.4"/>
<text x="84.00" y="384.12" font-size="3.5" text-anchor="end" font-weight="bold" fill="#333" stroke="#333" stroke-width="0.07" >0.2</text>
<line x1="84.40" y1="375.45" x2="85.40" y2="375.45" stroke="#444" stroke-width="0.4"/>
<text x="84.00" y="376.65" font-size="3.5" text-anchor="end" font-weight="bold" fill="#333" stroke="#333" stroke-width="0.07" >0.4</text>
<line x1="84.40" y1="367.97" x2="85.40" y2="367.97" stroke="#444" stroke-width="0.4"/>
<text x="84.00" y="369.17" font-size="3.5" text-anchor="end" font-weight="bold" fill="#333" stroke="#333" stroke-width="0.07" >0.6</text>
<line x1="84.40" y1="360.50" x2="85.40" y2="360.50" stroke="#444" stroke-width="0.4"/>
<text x="84.00" y="361.70" font-size="3.5" text-anchor="end" font-weight="bold" fill="#333" stroke="#333" stroke-width="0.07" >0.8</text>
<line x1="84.40" y1="353.02" x2="85.40" y2="353.02" stroke="#444" stroke-width="0.4"/>
<text x="84.00" y="354.22" font-size="3.5" text-anchor="end" font-weight="bold" fill="#333" stroke="#333" stroke-width="0.07" >1.0</text>
<line x1="84.40" y1="345.55" x2="85.40" y2="345.55" stroke="#444" stroke-width="0.4"/>
<text x="84.00" y="346.75" font-size="3.5" text-anchor="end" font-weight="bold" fill="#333" stroke="#333" stroke-width="0.07" >1.2</text>
<line x1="84.40" y1="338.08" x2="85.40" y2="338.08" stroke="#444" stroke-width="0.4"/>
<text x="84.00" y="339.28" font-size="3.5" text-anchor="end" font-weight="bold" fill="#333" stroke="#333" stroke-width="0.07" >1.4</text>
<line x1="84.40" y1="330.60" x2="85.40" y2="330.60" stroke="#444" stroke-width="0.4"/>
<text x="84.00" y="331.80" font-size="3.5" text-anchor="end" font-weight="bold" fill="#333" stroke="#333" stroke-width="0.07" >1.6</text>
<text transform="translate(76.6,360.5) rotate(-90)" font-size="3.9" text-anchor="middle" font-weight="bold" fill="#222">Potential (V)</text>
<text x="131.45" y="399.60" font-size="4.6" text-anchor="middle" font-weight="bold" fill="#222" stroke="#222" stroke-width="0.10" >Time (s)</text>
<rect x="215.1" y="330.6" width="89.10" height="60.30" fill="#fff" stroke="#333" stroke-width="0.75"/>
<text x="259.80" y="326.60" font-size="8.3" text-anchor="middle" font-weight="bold" fill="#111" stroke="#111" stroke-width="0.18" >Last 5 cycles</text>
<line x1="214.10" y1="390.90" x2="215.10" y2="390.90" stroke="#444" stroke-width="0.4"/>
<text x="213.70" y="392.10" font-size="3.5" text-anchor="end" font-weight="bold" fill="#333" stroke="#333" stroke-width="0.07" >0.0</text>
<line x1="214.10" y1="383.36" x2="215.10" y2="383.36" stroke="#444" stroke-width="0.4"/>
<text x="213.70" y="384.56" font-size="3.5" text-anchor="end" font-weight="bold" fill="#333" stroke="#333" stroke-width="0.07" >0.2</text>
<line x1="214.10" y1="375.82" x2="215.10" y2="375.82" stroke="#444" stroke-width="0.4"/>
<text x="213.70" y="377.02" font-size="3.5" text-anchor="end" font-weight="bold" fill="#333" stroke="#333" stroke-width="0.07" >0.4</text>
<line x1="214.10" y1="368.29" x2="215.10" y2="368.29" stroke="#444" stroke-width="0.4"/>
<text x="213.70" y="369.49" font-size="3.5" text-anchor="end" font-weight="bold" fill="#333" stroke="#333" stroke-width="0.07" >0.6</text>
<line x1="214.10" y1="360.75" x2="215.10" y2="360.75" stroke="#444" stroke-width="0.4"/>
<text x="213.70" y="361.95" font-size="3.5" text-anchor="end" font-weight="bold" fill="#333" stroke="#333" stroke-width="0.07" >0.8</text>
<line x1="214.10" y1="353.21" x2="215.10" y2="353.21" stroke="#444" stroke-width="0.4"/>
<text x="213.70" y="354.41" font-size="3.5" text-anchor="end" font-weight="bold" fill="#333" stroke="#333" stroke-width="0.07" >1.0</text>
<line x1="214.10" y1="345.68" x2="215.10" y2="345.68" stroke="#444" stroke-width="0.4"/>
<text x="213.70" y="346.88" font-size="3.5" text-anchor="end" font-weight="bold" fill="#333" stroke="#333" stroke-width="0.07" >1.2</text>
<line x1="214.10" y1="338.14" x2="215.10" y2="338.14" stroke="#444" stroke-width="0.4"/>
<text x="213.70" y="339.34" font-size="3.5" text-anchor="end" font-weight="bold" fill="#333" stroke="#333" stroke-width="0.07" >1.4</text>
<line x1="214.10" y1="330.60" x2="215.10" y2="330.60" stroke="#444" stroke-width="0.4"/>
<text x="213.70" y="331.80" font-size="3.5" text-anchor="end" font-weight="bold" fill="#333" stroke="#333" stroke-width="0.07" >1.6</text>
<text transform="translate(206.3,360.8) rotate(-90)" font-size="3.9" text-anchor="middle" font-weight="bold" fill="#222">Potential (V)</text>
<text x="259.65" y="399.60" font-size="4.6" text-anchor="middle" font-weight="bold" fill="#222" stroke="#222" stroke-width="0.10" >Time (s)</text>
<path d="M86.00,390.40 L86.18,379.19 L86.70,367.98 L87.76,359.75 L89.52,352.28 L91.28,346.67 L93.04,341.81 L94.80,338.08 L95.05,339.57 L101.90,390.40 L101.90,390.40 L102.09,379.19 L102.64,367.98 L103.76,359.75 L105.62,352.28 L107.48,346.67 L109.34,341.81 L111.20,338.08 L111.45,339.57 L118.50,390.40 L118.50,390.40 L118.68,379.19 L119.21,367.98 L120.28,359.75 L122.06,352.28 L123.84,346.67 L125.62,341.81 L127.40,338.08 L127.65,339.57 L134.80,390.40 L134.80,390.40 L134.98,379.19 L135.51,367.98 L136.58,359.75 L138.36,352.28 L140.14,346.67 L141.92,341.81 L143.70,338.08 L143.95,339.57 L151.50,390.40 L151.50,390.40 L151.68,379.19 L152.20,367.98 L153.26,359.75 L155.02,352.28 L156.78,346.67 L158.54,341.81 L160.30,338.08 L160.55,339.57 L168.10,390.40" fill="none" stroke="#4a90d9" stroke-width="0.75" stroke-linejoin="round" />
<line x1="86.10" y1="390.40" x2="86.10" y2="391.40" stroke="#444" stroke-width="0.4"/>
<text x="86.10" y="395.80" font-size="3.5" text-anchor="middle" font-weight="bold" fill="#333" stroke="#333" stroke-width="0.07" >0</text>
<line x1="96.70" y1="390.40" x2="96.70" y2="391.40" stroke="#444" stroke-width="0.4"/>
<text x="96.70" y="395.80" font-size="3.5" text-anchor="middle" font-weight="bold" fill="#333" stroke="#333" stroke-width="0.07" >20</text>
<line x1="107.30" y1="390.40" x2="107.30" y2="391.40" stroke="#444" stroke-width="0.4"/>
<text x="107.30" y="395.80" font-size="3.5" text-anchor="middle" font-weight="bold" fill="#333" stroke="#333" stroke-width="0.07" >40</text>
<line x1="117.90" y1="390.40" x2="117.90" y2="391.40" stroke="#444" stroke-width="0.4"/>
<text x="117.90" y="395.80" font-size="3.5" text-anchor="middle" font-weight="bold" fill="#333" stroke="#333" stroke-width="0.07" >60</text>
<line x1="128.50" y1="390.40" x2="128.50" y2="391.40" stroke="#444" stroke-width="0.4"/>
<text x="128.50" y="395.80" font-size="3.5" text-anchor="middle" font-weight="bold" fill="#333" stroke="#333" stroke-width="0.07" >80</text>
<line x1="139.10" y1="390.40" x2="139.10" y2="391.40" stroke="#444" stroke-width="0.4"/>
<text x="139.10" y="395.80" font-size="3.5" text-anchor="middle" font-weight="bold" fill="#333" stroke="#333" stroke-width="0.07" >100</text>
<line x1="149.70" y1="390.40" x2="149.70" y2="391.40" stroke="#444" stroke-width="0.4"/>
<text x="149.70" y="395.80" font-size="3.5" text-anchor="middle" font-weight="bold" fill="#333" stroke="#333" stroke-width="0.07" >120</text>
<line x1="160.30" y1="390.40" x2="160.30" y2="391.40" stroke="#444" stroke-width="0.4"/>
<text x="160.30" y="395.80" font-size="3.5" text-anchor="middle" font-weight="bold" fill="#333" stroke="#333" stroke-width="0.07" >140</text>
<line x1="170.90" y1="390.40" x2="170.90" y2="391.40" stroke="#444" stroke-width="0.4"/>
<text x="170.90" y="395.80" font-size="3.5" text-anchor="middle" font-weight="bold" fill="#333" stroke="#333" stroke-width="0.07" >160</text>
<path d="M215.30,361.50 L216.50,356.98 L219.00,350.20 L222.00,343.04 L224.50,338.14 L224.80,339.65 L230.50,390.90 L230.50,390.90 L230.59,377.71 L230.97,367.53 L231.91,360.75 L233.79,353.21 L236.14,346.43 L238.02,341.91 L239.90,338.14 L240.15,339.65 L246.50,390.90 L246.50,390.90 L246.59,377.71 L246.97,367.53 L247.93,360.75 L249.82,353.21 L252.20,346.43 L254.10,341.91 L256.00,338.14 L256.25,339.65 L262.40,390.90 L262.40,390.90 L262.49,377.71 L262.87,367.53 L263.81,360.75 L265.69,353.21 L268.04,346.43 L269.92,341.91 L271.80,338.14 L272.05,339.65 L278.20,390.90 L278.20,390.90 L278.29,377.71 L278.67,367.53 L279.61,360.75 L281.49,353.21 L283.84,346.43 L285.72,341.91 L287.60,338.14 L287.85,339.65 L293.80,390.90" fill="none" stroke="#3dbb6e" stroke-width="0.75" stroke-linejoin="round" />
<line x1="228.10" y1="390.90" x2="228.10" y2="391.90" stroke="#444" stroke-width="0.4"/>
<text x="228.10" y="395.80" font-size="3.0" text-anchor="middle" font-weight="bold" fill="#333" stroke="#333" stroke-width="0.06" >129800</text>
<line x1="246.50" y1="390.90" x2="246.50" y2="391.90" stroke="#444" stroke-width="0.4"/>
<text x="246.50" y="395.80" font-size="3.0" text-anchor="middle" font-weight="bold" fill="#333" stroke="#333" stroke-width="0.06" >129820</text>
<line x1="265.90" y1="390.90" x2="265.90" y2="391.90" stroke="#444" stroke-width="0.4"/>
<text x="265.90" y="395.80" font-size="3.0" text-anchor="middle" font-weight="bold" fill="#333" stroke="#333" stroke-width="0.06" >129840</text>
<line x1="284.30" y1="390.90" x2="284.30" y2="391.90" stroke="#444" stroke-width="0.4"/>
<text x="284.30" y="395.80" font-size="3.0" text-anchor="middle" font-weight="bold" fill="#333" stroke="#333" stroke-width="0.06" >129860</text>
<line x1="300.90" y1="390.90" x2="300.90" y2="391.90" stroke="#444" stroke-width="0.4"/>
<text x="300.90" y="395.80" font-size="3.0" text-anchor="middle" font-weight="bold" fill="#333" stroke="#333" stroke-width="0.06" >129880</text>
<text x="351.50" y="292.80" font-size="14" text-anchor="middle" font-weight="bold" fill="#1a1a1a" stroke="#1a1a1a" stroke-width="0.30" >(h)</text>
<path d="M490.3,321.1 C496,323 502,326.5 507,330 C512,334 518,339 522,343.5 C524.5,346 526,348 527.4,350.1" fill="none" stroke="#222" stroke-width="0.9" stroke-dasharray="2.4,0.8"/>
<circle cx="516.00" cy="322.80" r="2.10" fill="url(#sph_b)"/>
<path d="M477.20,358.10 L477.89,359.75 L479.67,359.90 L478.31,361.06 L478.73,362.80 L477.20,361.87 L475.67,362.80 L476.09,361.06 L474.73,359.90 L476.51,359.75 Z" fill="#3b8be0"/>
<path d="M489.60,337.89 L494.20,337.89 L491.90,341.57 Z" fill="#f47a7a"/>
<rect x="476.30" y="326.30" width="4.00" height="4.00" fill="#1fb07a"/>
<rect x="476.80" y="328.40" width="3.00" height="1.10" fill="#e8fff4"/>
<rect x="498.10" y="336.10" width="4.00" height="4.00" fill="#1a3f8a"/>
<rect x="498.50" y="336.50" width="1.60" height="3.20" fill="#dfe8f8"/>
<path d="M485.90,322.80 L488.60,325.50 L485.90,328.20 L483.20,325.50 Z" fill="#22c8d8"/>
<circle cx="487.60" cy="306.70" r="2.20" fill="#f0308a"/>
<path d="M485.90,306.90 A1.70,1.70 0 0 0 489.30,306.90 Z" fill="#fde8f2"/>
<path d="M491.70,300.60 L492.39,302.25 L494.17,302.40 L492.81,303.56 L493.23,305.30 L491.70,304.37 L490.17,305.30 L490.59,303.56 L489.23,302.40 L491.01,302.25 Z" fill="#c070f0"/>
<path d="M492.70,310.30 L493.39,311.95 L495.17,312.10 L493.81,313.26 L494.23,315.00 L492.70,314.07 L491.17,315.00 L491.59,313.26 L490.23,312.10 L492.01,311.95 Z" fill="#3cc03c"/>
<path d="M490.30,318.20 L491.07,320.04 L493.06,320.20 L491.54,321.50 L492.00,323.45 L490.30,322.41 L488.60,323.45 L489.06,321.50 L487.54,320.20 L489.53,320.04 Z" fill="#f03a3a"/>
<path d="M501.70,323.10 L502.47,324.94 L504.46,325.10 L502.94,326.40 L503.40,328.35 L501.70,327.31 L500.00,328.35 L500.46,326.40 L498.94,325.10 L500.93,324.94 Z" fill="#f03a3a"/>
<path d="M512.70,332.00 L513.47,333.84 L515.46,334.00 L513.94,335.30 L514.40,337.25 L512.70,336.20 L511.00,337.25 L511.46,335.30 L509.94,334.00 L511.93,333.84 Z" fill="#f03a3a"/>
<path d="M519.20,336.20 L519.97,338.04 L521.96,338.20 L520.44,339.50 L520.90,341.45 L519.20,340.41 L517.50,341.45 L517.96,339.50 L516.44,338.20 L518.43,338.04 Z" fill="#f03a3a"/>
<path d="M523.80,341.00 L524.57,342.84 L526.56,343.00 L525.04,344.30 L525.50,346.25 L523.80,345.20 L522.10,346.25 L522.56,344.30 L521.04,343.00 L523.03,342.84 Z" fill="#f03a3a"/>
<path d="M527.40,347.20 L528.17,349.04 L530.16,349.20 L528.64,350.50 L529.10,352.45 L527.40,351.41 L525.70,352.45 L526.16,350.50 L524.64,349.20 L526.63,349.04 Z" fill="#f03a3a"/>
<rect x="512.0" y="356.1" width="26.9" height="7.2" fill="#a8e89a"/>
<text x="525.45" y="362.00" font-size="6.1" text-anchor="middle" font-weight="bold" fill="#e8302a" stroke="#e8302a" stroke-width="0.13" >This work</text>
<rect x="386.00" y="288.90" width="158.30" height="120.60" fill="none" stroke="#333" stroke-width="1.1"/>
<line x1="386.40" y1="409.50" x2="386.40" y2="411.70" stroke="#333" stroke-width="0.8"/>
<text x="385.60" y="418.60" font-size="4.8" text-anchor="middle" font-weight="normal" fill="#222" >10<tspan font-size="3.2" dy="-2.3">0</tspan></text>
<line x1="397.48" y1="409.50" x2="397.48" y2="410.70" stroke="#333" stroke-width="0.5"/>
<line x1="403.96" y1="409.50" x2="403.96" y2="410.70" stroke="#333" stroke-width="0.5"/>
<line x1="408.56" y1="409.50" x2="408.56" y2="410.70" stroke="#333" stroke-width="0.5"/>
<line x1="412.12" y1="409.50" x2="412.12" y2="410.70" stroke="#333" stroke-width="0.5"/>
<line x1="415.04" y1="409.50" x2="415.04" y2="410.70" stroke="#333" stroke-width="0.5"/>
<line x1="417.50" y1="409.50" x2="417.50" y2="410.70" stroke="#333" stroke-width="0.5"/>
<line x1="419.63" y1="409.50" x2="419.63" y2="410.70" stroke="#333" stroke-width="0.5"/>
<line x1="421.52" y1="409.50" x2="421.52" y2="410.70" stroke="#333" stroke-width="0.5"/>
<line x1="423.20" y1="409.50" x2="423.20" y2="411.70" stroke="#333" stroke-width="0.8"/>
<text x="422.40" y="418.60" font-size="4.8" text-anchor="middle" font-weight="normal" fill="#222" >10<tspan font-size="3.2" dy="-2.3">1</tspan></text>
<line x1="434.28" y1="409.50" x2="434.28" y2="410.70" stroke="#333" stroke-width="0.5"/>
<line x1="440.76" y1="409.50" x2="440.76" y2="410.70" stroke="#333" stroke-width="0.5"/>
<line x1="445.36" y1="409.50" x2="445.36" y2="410.70" stroke="#333" stroke-width="0.5"/>
<line x1="448.92" y1="409.50" x2="448.92" y2="410.70" stroke="#333" stroke-width="0.5"/>
<line x1="451.84" y1="409.50" x2="451.84" y2="410.70" stroke="#333" stroke-width="0.5"/>
<line x1="454.30" y1="409.50" x2="454.30" y2="410.70" stroke="#333" stroke-width="0.5"/>
<line x1="456.43" y1="409.50" x2="456.43" y2="410.70" stroke="#333" stroke-width="0.5"/>
<line x1="458.32" y1="409.50" x2="458.32" y2="410.70" stroke="#333" stroke-width="0.5"/>
<line x1="460.00" y1="409.50" x2="460.00" y2="411.70" stroke="#333" stroke-width="0.8"/>
<text x="459.20" y="418.60" font-size="4.8" text-anchor="middle" font-weight="normal" fill="#222" >10<tspan font-size="3.2" dy="-2.3">2</tspan></text>
<line x1="471.08" y1="409.50" x2="471.08" y2="410.70" stroke="#333" stroke-width="0.5"/>
<line x1="477.56" y1="409.50" x2="477.56" y2="410.70" stroke="#333" stroke-width="0.5"/>
<line x1="482.16" y1="409.50" x2="482.16" y2="410.70" stroke="#333" stroke-width="0.5"/>
<line x1="485.72" y1="409.50" x2="485.72" y2="410.70" stroke="#333" stroke-width="0.5"/>
<line x1="488.64" y1="409.50" x2="488.64" y2="410.70" stroke="#333" stroke-width="0.5"/>
<line x1="491.10" y1="409.50" x2="491.10" y2="410.70" stroke="#333" stroke-width="0.5"/>
<line x1="493.23" y1="409.50" x2="493.23" y2="410.70" stroke="#333" stroke-width="0.5"/>
<line x1="495.12" y1="409.50" x2="495.12" y2="410.70" stroke="#333" stroke-width="0.5"/>
<line x1="496.80" y1="409.50" x2="496.80" y2="411.70" stroke="#333" stroke-width="0.8"/>
<text x="496.00" y="418.60" font-size="4.8" text-anchor="middle" font-weight="normal" fill="#222" >10<tspan font-size="3.2" dy="-2.3">3</tspan></text>
<line x1="507.88" y1="409.50" x2="507.88" y2="410.70" stroke="#333" stroke-width="0.5"/>
<line x1="514.36" y1="409.50" x2="514.36" y2="410.70" stroke="#333" stroke-width="0.5"/>
<line x1="518.96" y1="409.50" x2="518.96" y2="410.70" stroke="#333" stroke-width="0.5"/>
<line x1="522.52" y1="409.50" x2="522.52" y2="410.70" stroke="#333" stroke-width="0.5"/>
<line x1="525.44" y1="409.50" x2="525.44" y2="410.70" stroke="#333" stroke-width="0.5"/>
<line x1="527.90" y1="409.50" x2="527.90" y2="410.70" stroke="#333" stroke-width="0.5"/>
<line x1="530.03" y1="409.50" x2="530.03" y2="410.70" stroke="#333" stroke-width="0.5"/>
<line x1="531.92" y1="409.50" x2="531.92" y2="410.70" stroke="#333" stroke-width="0.5"/>
<line x1="533.60" y1="409.50" x2="533.60" y2="411.70" stroke="#333" stroke-width="0.8"/>
<text x="532.80" y="418.60" font-size="4.8" text-anchor="middle" font-weight="normal" fill="#222" >10<tspan font-size="3.2" dy="-2.3">4</tspan></text>
<line x1="383.80" y1="368.67" x2="386.00" y2="368.67" stroke="#333" stroke-width="0.8"/>
<text x="382.40" y="370.77" font-size="6.2" text-anchor="end" font-weight="bold" fill="#1a1a1a" stroke="#1a1a1a" stroke-width="0.13" >20</text>
<line x1="383.80" y1="328.79" x2="386.00" y2="328.79" stroke="#333" stroke-width="0.8"/>
<text x="382.40" y="330.89" font-size="6.2" text-anchor="end" font-weight="bold" fill="#1a1a1a" stroke="#1a1a1a" stroke-width="0.13" >40</text>
<line x1="383.80" y1="305.45" x2="386.00" y2="305.45" stroke="#333" stroke-width="0.8"/>
<text x="382.40" y="307.55" font-size="6.2" text-anchor="end" font-weight="bold" fill="#1a1a1a" stroke="#1a1a1a" stroke-width="0.13" >60</text>
<line x1="383.80" y1="288.90" x2="386.00" y2="288.90" stroke="#333" stroke-width="0.8"/>
<text x="382.40" y="291.00" font-size="6.2" text-anchor="end" font-weight="bold" fill="#1a1a1a" stroke="#1a1a1a" stroke-width="0.13" >80</text>
<line x1="384.70" y1="408.56" x2="386.00" y2="408.56" stroke="#333" stroke-width="0.5"/>
<line x1="384.70" y1="345.34" x2="386.00" y2="345.34" stroke="#333" stroke-width="0.5"/>
<line x1="384.70" y1="315.95" x2="386.00" y2="315.95" stroke="#333" stroke-width="0.5"/>
<line x1="384.70" y1="296.58" x2="386.00" y2="296.58" stroke="#333" stroke-width="0.5"/>
<text x="463.20" y="427.70" font-size="8.6" text-anchor="middle" font-weight="bold" fill="#1a1a1a" stroke="#1a1a1a" stroke-width="0.18" >Power density (W kg<tspan font-size="5.8" dy="-3.3">-1</tspan><tspan dy="3.3">)</tspan></text>
<text transform="translate(373.2,347.6) rotate(-90)" font-size="8.2" text-anchor="middle" font-weight="bold" fill="#1a1a1a">Energy density (Wh kg<tspan font-size="5.8" dy="-3.3">-1</tspan><tspan dy="3.3">)</tspan></text>
<circle cx="391.90" cy="336.80" r="1.99" fill="url(#sph_b)"/>
<text x="396.80" y="338.50" font-size="4.75" text-anchor="start" font-weight="bold" fill="#111" stroke="#111" stroke-width="0.18">Ni-ZIF-67/Mn-LDH//Ni-ZIF-67/GO-LDH</text>
<path d="M391.90,342.93 L392.55,344.50 L394.25,344.64 L392.96,345.74 L393.35,347.40 L391.90,346.51 L390.45,347.40 L390.84,345.74 L389.55,344.64 L391.25,344.50 Z" fill="#3b8be0"/>
<text x="396.80" y="347.10" font-size="4.75" text-anchor="start" font-weight="bold" fill="#111" stroke="#111" stroke-width="0.18">CoMn LDH-2//rGO</text>
<path d="M389.71,352.17 L394.08,352.17 L391.90,355.67 Z" fill="#f47a7a"/>
<text x="396.80" y="355.40" font-size="4.75" text-anchor="start" font-weight="bold" fill="#111" stroke="#111" stroke-width="0.18">NCA-LDH@NCS@CC//AC@CC</text>
<rect x="390.00" y="360.40" width="3.80" height="3.80" fill="#1fb07a"/>
<rect x="390.50" y="362.40" width="2.80" height="1.04" fill="#e8fff4"/>
<text x="396.80" y="364.00" font-size="4.75" text-anchor="start" font-weight="bold" fill="#111" stroke="#111" stroke-width="0.18">Cu<tspan font-size="3" dy="1">0.5</tspan><tspan dy="-1">Co</tspan><tspan font-size="3" dy="1">0.5</tspan><tspan dy="-1">-P@Ni(OH)</tspan><tspan font-size="3" dy="1">2</tspan><tspan dy="-1">//AC</tspan></text>
<rect x="390.00" y="368.90" width="3.80" height="3.80" fill="#1a3f8a"/>
<rect x="390.40" y="369.30" width="1.52" height="3.00" fill="#dfe8f8"/>
<text x="396.80" y="372.50" font-size="4.75" text-anchor="start" font-weight="bold" fill="#111" stroke="#111" stroke-width="0.18">NiCr-LDHs-POW//rGO</text>
<path d="M391.90,376.04 L394.46,378.60 L391.90,381.17 L389.33,378.60 Z" fill="#22c8d8"/>
<text x="396.80" y="380.30" font-size="4.75" text-anchor="start" font-weight="bold" fill="#111" stroke="#111" stroke-width="0.18">NiV-LDHs@ZIF-67//AC</text>
<circle cx="391.90" cy="387.50" r="2.09" fill="#f0308a"/>
<path d="M390.31,387.70 A1.59,1.59 0 0 0 393.49,387.70 Z" fill="#fde8f2"/>
<text x="396.80" y="389.20" font-size="4.75" text-anchor="start" font-weight="bold" fill="#111" stroke="#111" stroke-width="0.18">CNT/Co<tspan font-size="3" dy="1">3</tspan><tspan dy="-1">S</tspan><tspan font-size="3" dy="1">4</tspan><tspan dy="-1">@NiCo-LDH//AC</tspan></text>
<path d="M391.90,393.73 L392.55,395.30 L394.25,395.44 L392.96,396.54 L393.35,398.20 L391.90,397.31 L390.45,398.20 L390.84,396.54 L389.55,395.44 L391.25,395.30 Z" fill="#c070f0"/>
<text x="396.80" y="397.90" font-size="4.75" text-anchor="start" font-weight="bold" fill="#111" stroke="#111" stroke-width="0.18">CNTs@CuCo-LDH/BPQD//CNTs@BPQD</text>
<path d="M391.90,401.63 L392.55,403.20 L394.25,403.34 L392.96,404.44 L393.35,406.10 L391.90,405.21 L390.45,406.10 L390.84,404.44 L389.55,403.34 L391.25,403.20 Z" fill="#3cc03c"/>
<text x="396.80" y="405.80" font-size="4.75" text-anchor="start" font-weight="bold" fill="#111" stroke="#111" stroke-width="0.18">KNi<tspan font-size="3" dy="1">0.8</tspan><tspan dy="-1">Mn</tspan><tspan font-size="3" dy="1">0.2</tspan><tspan dy="-1">F</tspan><tspan font-size="3" dy="1">3</tspan><tspan dy="-1">//rGO</tspan></text>
<text x="16.00" y="446.80" font-size="14" text-anchor="middle" font-weight="bold" fill="#1a1a1a" stroke="#1a1a1a" stroke-width="0.30" >(i)</text>
<defs>
<radialGradient id="ph1_bg" cx="0.4" cy="0.6" r="0.8"><stop offset="0" stop-color="#d3d9d6"/><stop offset="0.55" stop-color="#cbd1ce"/><stop offset="1" stop-color="#b9c0bd"/></radialGradient>
<linearGradient id="ph1_top" x1="0" y1="0" x2="0" y2="1"><stop offset="0" stop-color="#bec5c3" stop-opacity="0.8"/><stop offset="1" stop-color="#bec5c3" stop-opacity="0"/></linearGradient>
<linearGradient id="ph1_r" x1="0" y1="0" x2="1" y2="0"><stop offset="0" stop-color="#a0a4a4" stop-opacity="0"/><stop offset="1" stop-color="#8e9292" stop-opacity="0.7"/></linearGradient>
<clipPath id="ph1_clip"><rect x="30.0" y="434.7" width="163.5" height="122.2"/></clipPath>
</defs>
<g clip-path="url(#ph1_clip)">
<rect x="30.0" y="434.7" width="163.5" height="122.2" fill="url(#ph1_bg)"/>
<rect x="30.0" y="434.7" width="163.5" height="51.3" fill="url(#ph1_top)"/>
<rect x="179.5" y="434.7" width="14" height="122.2" fill="url(#ph1_r)"/>
<rect x="30.0" y="434.7" width="163.5" height="1.2" fill="#eef0f0" opacity="0.8"/>
<path d="M66.00,520.70 L170.00,516.70 L176.00,548.70 L70.00,551.70 Z" fill="#aeb3b3" opacity="0.2"/>
<path d="M74.00,512.70 L103.00,512.00 L103.50,531.70 L72.00,532.70 Z" fill="#d9a624" opacity="0.96"/>
<path d="M100.00,512.20 L131.00,512.50 L131.50,531.70 L100.50,532.20 Z" fill="#dfae2a" opacity="0.96"/>
<path d="M128.00,512.70 L158.00,513.70 L158.50,531.70 L128.50,532.20 Z" fill="#d5a222" opacity="0.96"/>
<path d="M155.00,514.70 L173.00,516.70 L173.50,532.70 L155.50,532.70 Z" fill="#daa828" opacity="0.96"/>
<path d="M64.00,523.70 L76.00,518.70 L77.00,534.70 L64.50,537.70 Z" fill="#cf9a1e" opacity="0.96"/>
<path d="M65.00,531.70 L94.00,530.70 L94.50,546.70 L70.00,547.70 Z" fill="#ddac28" opacity="0.96"/>
<path d="M92.00,531.70 L130.00,531.20 L130.00,550.70 L102.00,551.20 Z" fill="#d29e20" opacity="0.96"/>
<path d="M127.00,531.70 L161.00,531.20 L161.50,550.20 L128.00,550.70 Z" fill="#dbaa2a" opacity="0.96"/>
<path d="M158.00,529.70 L173.50,528.70 L174.00,542.70 L159.00,544.70 Z" fill="#d4a224" opacity="0.96"/>
<path d="M70.00,522.70 L172.00,523.20 L172.00,535.70 L68.00,536.70 Z" fill="#7a5410" opacity="0.22"/>
<path d="M76.00,514.70 L125.00,514.70 L125.00,522.70 L76.00,523.70 Z" fill="#e8b428" opacity="0.3"/>
<path d="M80.00,538.70 L158.00,538.70 L158.00,545.70 L80.00,545.70 Z" fill="#ecbc30" opacity="0.3"/>
<rect x="83.0" y="527.2" width="15" height="7.5" rx="2" fill="#2e2412" opacity="0.85"/>
<rect x="86.0" y="529.7" width="5.2" height="2.2" fill="#a08a60" opacity="0.45"/>
<rect x="110.0" y="527.2" width="14.5" height="7.5" rx="2" fill="#2e2412" opacity="0.85"/>
<rect x="113.0" y="529.7" width="5.1" height="2.2" fill="#a08a60" opacity="0.45"/>
<rect x="136.0" y="527.2" width="15.5" height="7.5" rx="2" fill="#2e2412" opacity="0.85"/>
<rect x="139.0" y="529.7" width="5.4" height="2.2" fill="#a08a60" opacity="0.45"/>
<path d="M68.00,530.20 L168.00,529.70" stroke="#6a5418" stroke-width="1.4" opacity="0.7"/>
<path d="M48.00,509.20 C47.07,507.58 43.58,502.82 42.40,499.50 C41.22,496.18 40.67,492.58 40.90,489.30 C41.13,486.02 41.98,482.23 43.80,479.80 C45.62,477.37 48.03,476.03 51.80,474.70 C55.57,473.37 61.55,472.40 66.40,471.80 C71.25,471.20 77.47,471.20 80.90,471.10 C84.33,471.00 85.98,471.18 87.00,471.20" fill="none" stroke="#161616" stroke-width="1.6" stroke-linecap="round"/>
<path d="M134.00,468.50 C136.52,468.15 143.98,466.48 149.10,466.40 C154.22,466.32 160.27,466.57 164.70,468.00 C169.13,469.43 172.83,472.00 175.70,475.00 C178.57,478.00 180.73,482.35 181.90,486.00 C183.07,489.65 182.95,493.45 182.70,496.90 C182.45,500.35 180.78,505.07 180.40,506.70" fill="none" stroke="#d42828" stroke-width="1.6" stroke-linecap="round"/>
<path d="M84.89,472.40 L105.79,475.19 L106.21,469.81 L85.11,469.40 Z" fill="#1a1a1a" stroke="#1a1a1a" stroke-width="0.6" stroke-linejoin="round"/>
<path d="M115.43,475.05 L137.39,471.20 L135.81,464.80 L114.57,471.55 Z" fill="#d22020" stroke="#d22020" stroke-width="0.6" stroke-linejoin="round"/>
<path d="M46.45,512.53 L67.44,525.66 L69.56,522.74 L50.55,506.87 Z" fill="#1c1c1c" stroke="#1c1c1c" stroke-width="0.6" stroke-linejoin="round"/>
<path d="M175.99,506.22 L166.31,524.06 L169.49,526.14 L182.01,510.18 Z" fill="#c41c1c" stroke="#c41c1c" stroke-width="0.6" stroke-linejoin="round"/>
<ellipse cx="70.00" cy="525.70" rx="1.8" ry="1.5" fill="#d89060"/>
<ellipse cx="165.50" cy="527.70" rx="1.8" ry="1.5" fill="#d89060"/>
<ellipse cx="108.50" cy="473.00" rx="1.8" ry="1.5" fill="#d89060"/>
<defs><radialGradient id="ph1_glow"><stop offset="0" stop-color="#ff5050" stop-opacity="0.6"/><stop offset="0.45" stop-color="#ff6a6a" stop-opacity="0.25"/><stop offset="1" stop-color="#ff7a7a" stop-opacity="0"/></radialGradient></defs>
<ellipse cx="110.80" cy="482.70" rx="19" ry="11" fill="url(#ph1_glow)"/>
<ellipse cx="111.80" cy="467.70" rx="9" ry="8" fill="url(#ph1_glow)" opacity="0.8"/>
<ellipse cx="111.80" cy="465.70" rx="2.8" ry="4" fill="#ff8a7a" opacity="0.6"/>
<ellipse cx="111.80" cy="465.70" rx="1.4" ry="2.6" fill="#fff6ee"/>
<text x="123.30" y="507.00" font-size="18.3" text-anchor="middle" font-weight="bold" fill="#2463b9">0 s</text>
</g>
<defs>
<radialGradient id="ph2_bg" cx="0.4" cy="0.6" r="0.8"><stop offset="0" stop-color="#d3d9d6"/><stop offset="0.55" stop-color="#cbd1ce"/><stop offset="1" stop-color="#b9c0bd"/></radialGradient>
<linearGradient id="ph2_top" x1="0" y1="0" x2="0" y2="1"><stop offset="0" stop-color="#bec5c3" stop-opacity="0.8"/><stop offset="1" stop-color="#bec5c3" stop-opacity="0"/></linearGradient>
<linearGradient id="ph2_r" x1="0" y1="0" x2="1" y2="0"><stop offset="0" stop-color="#a0a4a4" stop-opacity="0"/><stop offset="1" stop-color="#8e9292" stop-opacity="0.7"/></linearGradient>
<clipPath id="ph2_clip"><rect x="206.0" y="434.7" width="162.8" height="122.2"/></clipPath>
</defs>
<g clip-path="url(#ph2_clip)">
<rect x="206.0" y="434.7" width="162.8" height="122.2" fill="url(#ph2_bg)"/>
<rect x="206.0" y="434.7" width="162.8" height="51.3" fill="url(#ph2_top)"/>
<rect x="354.8" y="434.7" width="14" height="122.2" fill="url(#ph2_r)"/>
<rect x="206.0" y="434.7" width="162.8" height="1.2" fill="#eef0f0" opacity="0.8"/>
<path d="M242.00,520.70 L346.00,516.70 L352.00,548.70 L246.00,551.70 Z" fill="#aeb3b3" opacity="0.2"/>
<path d="M250.00,512.70 L279.00,512.00 L279.50,531.70 L248.00,532.70 Z" fill="#d9a624" opacity="0.96"/>
<path d="M276.00,512.20 L307.00,512.50 L307.50,531.70 L276.50,532.20 Z" fill="#dfae2a" opacity="0.96"/>
<path d="M304.00,512.70 L334.00,513.70 L334.50,531.70 L304.50,532.20 Z" fill="#d5a222" opacity="0.96"/>
<path d="M331.00,514.70 L349.00,516.70 L349.50,532.70 L331.50,532.70 Z" fill="#daa828" opacity="0.96"/>
<path d="M240.00,523.70 L252.00,518.70 L253.00,534.70 L240.50,537.70 Z" fill="#cf9a1e" opacity="0.96"/>
<path d="M241.00,531.70 L270.00,530.70 L270.50,546.70 L246.00,547.70 Z" fill="#ddac28" opacity="0.96"/>
<path d="M268.00,531.70 L306.00,531.20 L306.00,550.70 L278.00,551.20 Z" fill="#d29e20" opacity="0.96"/>
<path d="M303.00,531.70 L337.00,531.20 L337.50,550.20 L304.00,550.70 Z" fill="#dbaa2a" opacity="0.96"/>
<path d="M334.00,529.70 L349.50,528.70 L350.00,542.70 L335.00,544.70 Z" fill="#d4a224" opacity="0.96"/>
<path d="M246.00,522.70 L348.00,523.20 L348.00,535.70 L244.00,536.70 Z" fill="#7a5410" opacity="0.22"/>
<path d="M252.00,514.70 L301.00,514.70 L301.00,522.70 L252.00,523.70 Z" fill="#e8b428" opacity="0.3"/>
<path d="M256.00,538.70 L334.00,538.70 L334.00,545.70 L256.00,545.70 Z" fill="#ecbc30" opacity="0.3"/>
<rect x="259.0" y="527.2" width="15" height="7.5" rx="2" fill="#2e2412" opacity="0.85"/>
<rect x="262.0" y="529.7" width="5.2" height="2.2" fill="#a08a60" opacity="0.45"/>
<rect x="286.0" y="527.2" width="14.5" height="7.5" rx="2" fill="#2e2412" opacity="0.85"/>
<rect x="289.0" y="529.7" width="5.1" height="2.2" fill="#a08a60" opacity="0.45"/>
<rect x="312.0" y="527.2" width="15.5" height="7.5" rx="2" fill="#2e2412" opacity="0.85"/>
<rect x="315.0" y="529.7" width="5.4" height="2.2" fill="#a08a60" opacity="0.45"/>
<path d="M244.00,530.20 L344.00,529.70" stroke="#6a5418" stroke-width="1.4" opacity="0.7"/>
<path d="M217.50,507.30 C216.98,505.90 215.05,501.97 214.40,498.90 C213.75,495.83 213.08,491.97 213.60,488.90 C214.12,485.83 214.95,482.92 217.50,480.50 C220.05,478.08 223.95,475.92 228.90,474.40 C233.85,472.88 241.68,471.87 247.20,471.40 C252.72,470.93 259.53,471.57 262.00,471.60" fill="none" stroke="#161616" stroke-width="1.6" stroke-linecap="round"/>
<path d="M310.00,470.00 C313.18,469.67 323.18,467.92 329.10,468.00 C335.02,468.08 341.13,468.87 345.50,470.50 C349.87,472.13 352.85,474.40 355.30,477.80 C357.75,481.20 359.52,486.53 360.20,490.90 C360.88,495.27 359.77,501.20 359.40,504.00 C359.03,506.80 358.23,507.08 358.00,507.70" fill="none" stroke="#d42828" stroke-width="1.6" stroke-linecap="round"/>
<path d="M260.83,472.79 L282.10,476.38 L282.70,471.02 L261.17,469.81 Z" fill="#1a1a1a" stroke="#1a1a1a" stroke-width="0.6" stroke-linejoin="round"/>
<path d="M290.38,476.26 L313.40,472.83 L312.00,466.37 L289.62,472.74 Z" fill="#d22020" stroke="#d22020" stroke-width="0.6" stroke-linejoin="round"/>
<path d="M216.19,511.66 L237.76,524.77 L239.84,521.83 L220.21,505.94 Z" fill="#1c1c1c" stroke="#1c1c1c" stroke-width="0.6" stroke-linejoin="round"/>
<path d="M354.60,505.47 L345.46,524.34 L348.74,526.26 L360.80,509.13 Z" fill="#c41c1c" stroke="#c41c1c" stroke-width="0.6" stroke-linejoin="round"/>
<ellipse cx="240.40" cy="525.60" rx="1.8" ry="1.5" fill="#d89060"/>
<ellipse cx="345.50" cy="528.20" rx="1.8" ry="1.5" fill="#d89060"/>
<ellipse cx="284.50" cy="474.20" rx="1.8" ry="1.5" fill="#d89060"/>
<rect x="284.30" y="467.20" width="5.2" height="7.5" rx="1" fill="#eceeee" stroke="#9aa0a0" stroke-width="0.5"/>
<rect x="284.30" y="472.50" width="5.2" height="2.2" fill="#b8b0a0"/>
<ellipse cx="286.90" cy="466.00" rx="1.9" ry="2.2" fill="#f04a30"/>
<ellipse cx="286.90" cy="465.20" rx="1.4" ry="1.2" fill="#f8e040"/>
<text x="291.80" y="507.00" font-size="18.3" text-anchor="middle" font-weight="bold" fill="#2463b9">80 s</text>
</g>
<defs>
<radialGradient id="ph3_bg" cx="0.4" cy="0.6" r="0.8"><stop offset="0" stop-color="#d3d9d6"/><stop offset="0.55" stop-color="#cbd1ce"/><stop offset="1" stop-color="#b9c0bd"/></radialGradient>
<linearGradient id="ph3_top" x1="0" y1="0" x2="0" y2="1"><stop offset="0" stop-color="#bec5c3" stop-opacity="0.8"/><stop offset="1" stop-color="#bec5c3" stop-opacity="0"/></linearGradient>
<linearGradient id="ph3_r" x1="0" y1="0" x2="1" y2="0"><stop offset="0" stop-color="#a0a4a4" stop-opacity="0"/><stop offset="1" stop-color="#8e9292" stop-opacity="0.7"/></linearGradient>
<clipPath id="ph3_clip"><rect x="380.0" y="434.7" width="162.9" height="122.2"/></clipPath>
</defs>
<g clip-path="url(#ph3_clip)">
<rect x="380.0" y="434.7" width="162.9" height="122.2" fill="url(#ph3_bg)"/>
<rect x="380.0" y="434.7" width="162.9" height="51.3" fill="url(#ph3_top)"/>
<rect x="528.9" y="434.7" width="14" height="122.2" fill="url(#ph3_r)"/>
<rect x="380.0" y="434.7" width="162.9" height="1.2" fill="#eef0f0" opacity="0.8"/>
<path d="M416.00,520.70 L520.00,516.70 L526.00,548.70 L420.00,551.70 Z" fill="#aeb3b3" opacity="0.2"/>
<path d="M424.00,512.70 L453.00,512.00 L453.50,531.70 L422.00,532.70 Z" fill="#d9a624" opacity="0.96"/>
<path d="M450.00,512.20 L481.00,512.50 L481.50,531.70 L450.50,532.20 Z" fill="#dfae2a" opacity="0.96"/>
<path d="M478.00,512.70 L508.00,513.70 L508.50,531.70 L478.50,532.20 Z" fill="#d5a222" opacity="0.96"/>
<path d="M505.00,514.70 L523.00,516.70 L523.50,532.70 L505.50,532.70 Z" fill="#daa828" opacity="0.96"/>
<path d="M414.00,523.70 L426.00,518.70 L427.00,534.70 L414.50,537.70 Z" fill="#cf9a1e" opacity="0.96"/>
<path d="M415.00,531.70 L444.00,530.70 L444.50,546.70 L420.00,547.70 Z" fill="#ddac28" opacity="0.96"/>
<path d="M442.00,531.70 L480.00,531.20 L480.00,550.70 L452.00,551.20 Z" fill="#d29e20" opacity="0.96"/>
<path d="M477.00,531.70 L511.00,531.20 L511.50,550.20 L478.00,550.70 Z" fill="#dbaa2a" opacity="0.96"/>
<path d="M508.00,529.70 L523.50,528.70 L524.00,542.70 L509.00,544.70 Z" fill="#d4a224" opacity="0.96"/>
<path d="M420.00,522.70 L522.00,523.20 L522.00,535.70 L418.00,536.70 Z" fill="#7a5410" opacity="0.22"/>
<path d="M426.00,514.70 L475.00,514.70 L475.00,522.70 L426.00,523.70 Z" fill="#e8b428" opacity="0.3"/>
<path d="M430.00,538.70 L508.00,538.70 L508.00,545.70 L430.00,545.70 Z" fill="#ecbc30" opacity="0.3"/>
<rect x="433.0" y="527.2" width="15" height="7.5" rx="2" fill="#2e2412" opacity="0.85"/>
<rect x="436.0" y="529.7" width="5.2" height="2.2" fill="#a08a60" opacity="0.45"/>
<rect x="460.0" y="527.2" width="14.5" height="7.5" rx="2" fill="#2e2412" opacity="0.85"/>
<rect x="463.0" y="529.7" width="5.1" height="2.2" fill="#a08a60" opacity="0.45"/>
<rect x="486.0" y="527.2" width="15.5" height="7.5" rx="2" fill="#2e2412" opacity="0.85"/>
<rect x="489.0" y="529.7" width="5.4" height="2.2" fill="#a08a60" opacity="0.45"/>
<path d="M418.00,530.20 L518.00,529.70" stroke="#6a5418" stroke-width="1.4" opacity="0.7"/>
<path d="M393.70,507.30 C392.95,505.38 389.83,499.23 389.20,495.80 C388.57,492.37 388.88,489.50 389.90,486.70 C390.92,483.90 391.87,481.17 395.30,479.00 C398.73,476.83 404.13,474.77 410.50,473.70 C416.87,472.63 429.08,472.77 433.50,472.60 C437.92,472.43 436.42,472.68 437.00,472.70" fill="none" stroke="#161616" stroke-width="1.6" stroke-linecap="round"/>
<path d="M484.00,471.70 C487.35,471.35 498.02,469.53 504.10,469.60 C510.18,469.67 516.27,470.45 520.50,472.10 C524.73,473.75 527.47,476.10 529.50,479.50 C531.53,482.90 532.43,487.87 532.70,492.50 C532.97,497.13 531.37,504.83 531.10,507.30" fill="none" stroke="#d42828" stroke-width="1.6" stroke-linecap="round"/>
<path d="M436.30,473.99 L456.04,477.88 L456.76,472.52 L436.70,471.01 Z" fill="#1a1a1a" stroke="#1a1a1a" stroke-width="0.6" stroke-linejoin="round"/>
<path d="M466.00,477.75 L486.84,474.52 L485.36,468.08 L465.20,474.25 Z" fill="#d22020" stroke="#d22020" stroke-width="0.6" stroke-linejoin="round"/>
<path d="M393.27,511.65 L412.56,523.27 L414.64,520.33 L397.33,505.95 Z" fill="#1c1c1c" stroke="#1c1c1c" stroke-width="0.6" stroke-linejoin="round"/>
<path d="M527.27,506.96 L517.20,525.88 L520.40,527.92 L533.33,510.84 Z" fill="#c41c1c" stroke="#c41c1c" stroke-width="0.6" stroke-linejoin="round"/>
<ellipse cx="415.00" cy="524.20" rx="1.8" ry="1.5" fill="#d89060"/>
<ellipse cx="517.50" cy="529.20" rx="1.8" ry="1.5" fill="#d89060"/>
<ellipse cx="458.50" cy="475.70" rx="1.8" ry="1.5" fill="#d89060"/>
<rect x="458.60" y="467.60" width="5.2" height="7.5" rx="1" fill="#eceeee" stroke="#9aa0a0" stroke-width="0.5"/>
<rect x="458.60" y="472.90" width="5.2" height="2.2" fill="#b8b0a0"/>
<ellipse cx="461.20" cy="466.40" rx="1.7" ry="2.4" fill="#f03a2a"/>
<text x="466.30" y="507.00" font-size="18.3" text-anchor="middle" font-weight="bold" fill="#2463b9">135 s</text>
</g>
</g>
</svg>
</body></html>
